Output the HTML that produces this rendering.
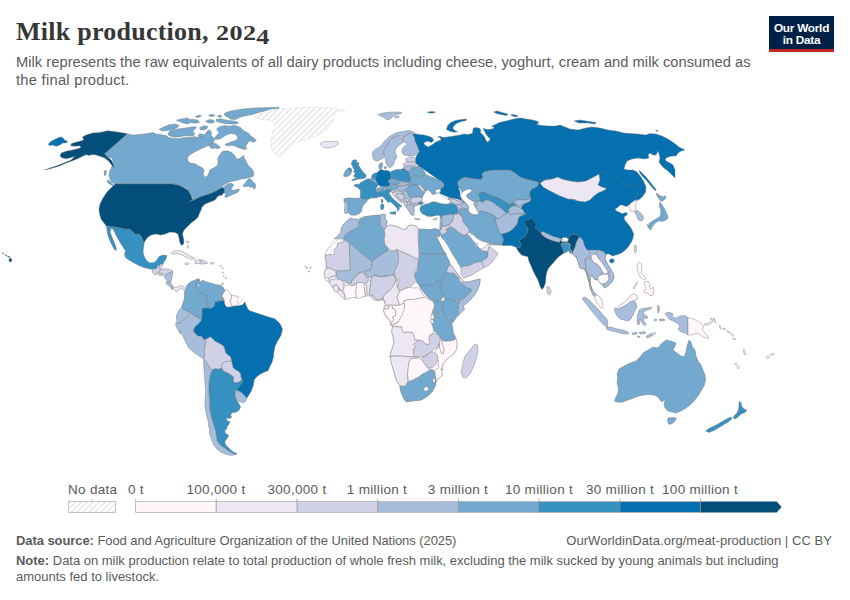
<!DOCTYPE html>
<html><head><meta charset="utf-8">
<style>
html,body{margin:0;padding:0;background:#fff;}
body{width:850px;height:600px;position:relative;overflow:hidden;font-family:"Liberation Sans",sans-serif;color:#5b5b5b;}
.abs{position:absolute;white-space:nowrap;}
#title{left:16px;top:17px;font-family:"Liberation Serif",serif;font-weight:bold;font-size:26px;color:#363636;letter-spacing:0.25px;}
.sub{font-size:14.7px;color:#5b5b5b;left:16px;}
.ft{font-size:13px;color:#5b5b5b;left:16px;}
.ft b{color:#5b5b5b}
.lg{font-size:13.5px;letter-spacing:0.3px;color:#5b5b5b;}
#logo{left:769px;top:16px;width:65px;height:36px;background:#002147;border-bottom:3px solid #c4261f;box-sizing:border-box;color:#fff;font-weight:bold;font-size:11.8px;line-height:12px;text-align:center;letter-spacing:-0.25px}
svg{position:absolute;left:0;top:0;}
</style></head>
<body>
<div id="title" class="abs">Milk production, <span style="display:inline-block;font-size:20.5px;transform:scaleX(1.28);transform-origin:0 100%">202<span style="position:relative;top:3.5px">4</span></span></div>
<div class="abs sub" id="s1" style="top:54px;letter-spacing:0.028px">Milk represents the raw equivalents of all dairy products including cheese, yoghurt, cream and milk consumed as</div>
<div class="abs sub" id="s2" style="top:72px;letter-spacing:0.27px">the final product.</div>
<div id="logo" class="abs"><div style="margin-top:5.5px">Our World</div><div>in Data</div></div>
<svg id="map" width="850" height="600" viewBox="0 0 850 600">
<defs>
<pattern id="hatch" width="4.2" height="4.2" patternUnits="userSpaceOnUse" patternTransform="rotate(45)"><rect width="4.2" height="4.2" fill="#fff"/><line x1="1" y1="0" x2="1" y2="4.2" stroke="#e3e3e3" stroke-width="1.3"/></pattern>
</defs>
<g id="countries" stroke="#6e6e6e" stroke-width="0.4" stroke-linejoin="round">
<path d="M128.0 134.0L133.0 135.0L140.0 134.4L147.0 133.6L153.0 132.4L156.0 134.0L160.0 134.4L162.0 134.8L166.5 135.7L168.7 137.5L172.5 138.2L178.5 138.7L184.5 137.5L190.5 137.2L195.0 136.7L199.5 137.5L202.5 136.0L205.5 133.7L207.7 130.7L210.0 130.0L211.5 132.2L211.2 135.2L213.0 137.5L214.5 139.7L213.7 142.0L211.5 143.5L209.2 145.0L206.2 146.5L201.0 148.7L195.0 151.7L189.7 154.7L187.5 157.7L188.2 161.5L190.5 163.0L195.0 163.7L198.7 166.0L202.5 167.8L204.0 170.5L203.2 174.2L204.7 177.2L207.7 175.7L209.2 172.0L210.0 169.7L214.5 167.5L217.5 165.2L218.2 161.5L217.5 158.5L219.0 156.2L221.2 152.5L223.5 151.0L228.0 151.0L231.7 152.5L234.7 155.5L237.0 159.2L240.0 158.5L242.2 156.2L244.5 155.8L243.5 156.7L245.7 160.5L248.0 165.0L251.7 168.7L254.0 172.5L253.2 176.2L250.2 177.3L245.0 178.5L240.5 179.2L236.0 180.7L232.2 181.2L228.5 182.2L225.5 183.7L222.5 186.0L220.2 188.2L221.0 188.2L224.0 186.7L227.7 183.7L231.5 183.3L233.7 184.8L232.2 187.5L230.7 189.3L233.7 190.5L236.7 189.3L239.7 189.3L238.2 192.0L235.2 193.5L231.5 195.0L227.7 196.8L225.5 197.7L224.7 195.7L226.2 194.2L224.0 192.7L223.7 189.7L222.5 188.2L220.2 189.3L216.5 192.0L212.0 193.5L206.0 195.7L200.0 198.0L200.0 197.0L194.0 200.0L190.0 201.6L193.0 198.0L191.0 194.0L188.0 189.0L184.0 186.4L179.0 185.0L173.0 184.0L115.0 184.0L112.0 182.0L110.0 179.0L109.0 175.0L110.0 170.0L111.0 169.0L112.0 166.0L113.0 162.0L112.0 158.0L108.0 157.0L105.0 153.6Z" fill="#74a9cf"/>
<path d="M216.6 128.8L219.8 126.7L225.1 125.6L229.3 126.2L233.5 125.6L237.8 126.2L240.9 127.8L243.1 130.4L246.2 132.0L248.9 133.6L250.5 135.7L253.6 137.8L256.3 140.5L254.2 142.1L251.5 141.5L248.9 141.0L247.8 143.1L246.2 145.2L245.7 147.4L247.3 148.9L244.1 149.5L240.9 148.4L237.8 147.4L234.6 145.8L231.4 145.2L228.2 145.8L225.6 145.2L225.1 144.2L228.2 143.1L232.5 141.5L235.6 140.5L237.8 138.4L237.2 135.7L234.6 134.1L231.4 133.6L228.2 134.1L225.1 135.7L222.9 137.3L219.8 138.9L216.6 139.4L213.9 138.9L215.5 136.8L217.6 134.6L219.2 132.5L217.6 130.9Z" fill="#74a9cf"/>
<path d="M208.5 145.0L213.0 142.7L216.7 144.2L220.5 147.2L218.2 148.7L214.5 148.0L211.5 148.7Z" fill="#74a9cf"/>
<path d="M159.3 129.2L163.5 127.0L169.5 124.7L175.5 124.0L179.2 125.5L177.0 127.7L172.5 129.2L166.5 130.7L162.0 131.0Z" fill="#74a9cf"/>
<path d="M168.7 132.2L171.0 130.0L176.2 129.2L181.5 128.5L187.5 127.7L193.5 126.7L196.5 127.0L195.0 129.2L192.7 131.5L195.0 133.7L193.5 135.7L189.0 136.0L184.5 135.7L180.0 136.7L174.7 137.2L170.2 136.0L168.0 134.8Z" fill="#74a9cf"/>
<path d="M198.0 135.2L200.2 133.7L203.2 134.5L202.5 136.7L199.5 137.5Z" fill="#74a9cf"/>
<path d="M199.5 127.7L204.0 125.8L207.7 126.2L207.0 128.5L203.2 130.0L200.2 129.7Z" fill="#74a9cf"/>
<path d="M176.2 120.2L182.2 118.7L188.2 118.0L189.0 119.5L193.5 119.2L198.0 120.2L199.5 122.5L195.0 123.2L190.5 122.5L187.5 124.0L183.7 123.2L180.0 121.7Z" fill="#74a9cf"/>
<path d="M205.5 121.0L210.0 119.5L213.7 120.2L214.5 122.2L210.7 123.2L207.0 122.5Z" fill="#74a9cf"/>
<path d="M216.0 119.5L220.5 118.7L226.5 120.2L234.0 121.0L238.5 122.5L237.0 124.0L231.0 124.0L225.0 123.7L220.5 122.5L216.7 121.7Z" fill="#74a9cf"/>
<path d="M224.2 113.5L229.5 111.2L235.5 110.2L243.0 109.0L252.0 108.2L261.0 107.8L270.0 107.5L279.0 107.2L279.0 108.2L270.0 109.3L264.0 111.2L258.0 112.7L253.5 114.2L246.0 115.7L240.0 117.2L235.5 119.5L231.0 119.2L228.0 117.2L225.0 115.7Z" fill="#74a9cf"/>
<path d="M195.0 116.5L199.5 115.0L201.7 115.7L198.0 117.7Z" fill="#74a9cf"/>
<path d="M208.5 115.0L213.0 114.2L215.2 115.7L210.7 116.8Z" fill="#74a9cf"/>
<path d="M217.5 115.7L220.5 115.0L222.0 116.8L219.0 117.2Z" fill="#74a9cf"/>
<path d="M242.7 186.0L245.7 182.2L248.7 178.5L251.0 179.2L252.5 181.5L255.2 183.7L255.8 187.5L254.0 189.3L252.5 186.7L250.2 187.5L248.7 186.0L245.7 186.7Z" fill="#74a9cf"/>
<path d="M107.0 180.0L110.0 181.0L113.6 185.0L114.0 187.0L111.0 185.0L108.0 183.0Z" fill="#74a9cf"/>
<path d="M104.0 171.0L106.4 170.4L106.0 175.0L104.4 175.6Z" fill="#74a9cf"/>
<path d="M115.0 184.0L172.0 184.0L178.0 185.0L183.0 187.0L188.0 190.0L191.0 195.0L192.4 199.6L189.0 202.0L194.0 200.0L200.0 197.0L206.0 195.0L212.0 193.0L218.0 190.0L222.0 187.6L224.0 189.0L224.4 192.0L222.0 195.0L218.0 196.0L215.0 200.0L210.0 202.0L205.0 204.0L202.0 207.0L201.0 210.0L199.6 213.0L198.0 217.0L195.0 220.0L191.0 223.0L187.0 227.0L184.0 230.0L182.4 234.0L183.6 239.0L184.0 243.0L182.0 245.6L180.0 243.0L179.0 238.0L178.0 234.0L175.0 232.4L170.0 232.0L165.0 234.0L161.0 235.0L156.0 234.0L151.0 235.0L147.0 238.0L144.4 242.0L143.0 241.0L141.6 237.0L139.0 234.0L135.0 234.4L132.0 231.0L129.0 229.0L124.0 229.0L120.0 228.0L114.0 227.0L106.4 226.0L104.0 223.0L101.0 219.0L99.6 214.0L99.0 209.0L100.0 204.0L103.0 198.0L107.0 192.0L111.0 188.0L114.0 185.6Z" fill="#034e7b"/>
<path d="M127.5 133.8L117.5 132.0L107.5 130.8L100.0 132.5L92.5 133.0L86.2 135.0L82.5 137.0L83.8 140.0L80.0 141.2L75.0 142.5L71.2 143.8L70.8 145.8L75.0 146.2L79.5 145.8L81.2 147.5L77.5 148.8L72.5 150.0L66.2 151.2L61.2 153.0L60.0 156.2L62.5 158.0L66.2 158.8L71.2 157.5L75.0 156.2L71.2 160.0L65.0 162.5L57.5 165.5L50.0 168.0L44.5 170.0L50.0 168.8L58.8 166.2L66.2 163.0L72.5 160.8L77.5 158.8L82.5 156.2L86.2 154.5L88.8 155.5L92.5 154.5L96.2 155.0L100.0 156.2L105.0 158.0L108.8 161.2L112.0 165.5L113.8 168.0L113.0 163.8L111.2 160.0L107.5 157.0L104.5 153.8Z" fill="#034e7b"/>
<path d="M48.0 144.5L51.2 141.2L56.2 138.8L60.0 137.0L62.5 137.5L64.5 140.0L67.5 141.2L66.2 143.0L62.5 143.0L60.0 145.0L56.2 146.2L52.5 145.0L50.0 145.5Z" fill="#0570b0"/>
<path d="M106.4 226.0L114.0 227.0L120.0 228.0L124.0 229.0L129.0 229.0L132.0 231.0L135.0 234.4L139.0 234.0L141.6 237.0L143.0 241.0L144.4 242.0L143.6 247.0L143.0 252.0L144.4 257.0L147.0 261.0L150.0 263.0L154.0 262.4L157.0 260.0L159.0 256.4L163.0 255.0L167.0 255.6L166.0 259.0L164.0 262.0L162.4 265.0L159.0 265.6L157.0 268.0L154.0 269.6L150.0 269.0L144.0 267.6L139.0 265.6L134.0 263.0L129.0 260.0L125.6 257.6L124.4 254.0L125.6 251.0L123.0 247.0L120.4 243.0L117.6 238.0L115.0 233.0L113.0 229.0L110.0 228.0L111.0 230.0L110.0 232.0L111.6 236.0L114.0 242.0L116.0 247.0L116.4 250.4L114.4 249.6L112.0 245.0L109.6 240.0L107.6 234.0L107.0 230.0Z" fill="#3690c0"/>
<path d="M201.7 308.5L207.0 307.7L210.0 308.5L212.2 307.7L214.5 305.5L215.2 301.7L219.0 301.0L222.0 300.2L224.2 301.0L225.0 304.7L226.5 307.0L231.0 306.7L234.7 305.5L238.5 305.8L242.2 304.7L244.8 301.7L246.0 304.7L247.5 308.5L249.7 310.7L255.0 312.5L262.5 315.0L270.0 317.5L275.0 318.8L280.0 323.8L282.5 328.8L281.2 335.0L277.5 341.2L275.0 346.2L273.8 352.5L273.8 352.5L273.5 357.0L272.0 362.2L269.7 366.7L268.2 370.5L264.5 372.0L260.0 374.2L256.2 377.2L254.0 380.2L253.7 384.0L252.5 387.7L251.0 391.5L248.7 395.2L246.8 398.2L245.0 396.0L242.0 393.0L239.0 391.2L236.0 390.0L238.2 387.7L240.5 384.7L242.7 381.7L242.0 379.5L240.8 377.2L240.5 373.5L238.2 371.2L235.2 369.7L233.0 367.5L232.2 363.7L231.5 360.7L230.7 357.0L227.7 354.7L225.5 352.5L224.7 348.7L223.2 345.7L219.5 343.5L215.0 341.2L212.7 339.0L210.5 336.7L206.7 339.0L203.7 339.7L201.5 336.3L197.7 336.0L194.7 333.0L193.2 330.0L194.2 332.5L193.8 328.7L195.7 325.7L198.7 323.5L201.0 320.5L201.7 317.5L202.2 313.0Z" fill="#0570b0"/>
<path d="M185.7 289.3L186.0 286.7L188.2 283.7L191.2 281.5L195.0 280.0L198.7 278.5L199.5 280.0L197.2 282.2L195.7 285.2L196.5 288.2L198.0 291.2L201.0 292.7L204.7 294.2L207.0 295.0L207.7 298.0L206.7 301.7L207.7 304.7L208.5 307.7L205.5 307.7L201.7 308.5L202.2 313.0L201.7 317.5L201.0 320.5L198.7 317.5L195.7 316.7L192.7 314.5L189.7 312.2L186.0 310.7L183.0 309.2L181.5 307.7L182.2 304.7L183.7 301.0L184.5 296.5L184.2 292.7Z" fill="#74a9cf"/>
<path d="M199.2 279.7L201.0 282.2L202.5 280.0L205.5 281.5L209.2 282.7L213.0 283.7L216.7 284.8L220.5 285.2L222.7 286.7L224.2 289.0L225.0 290.8L223.2 293.5L222.0 295.7L223.5 298.3L224.5 301.0L222.0 300.2L219.0 301.0L215.2 301.7L214.5 305.5L212.2 307.7L210.0 308.5L208.5 307.7L207.7 304.7L206.7 301.7L207.7 298.0L207.0 295.0L204.7 294.2L201.0 292.7L198.0 291.2L196.5 288.2L195.7 285.2L197.2 282.2Z" fill="#74a9cf"/>
<path d="M197.7 284.8L198.9 283.3L199.5 285.4L198.6 287.2Z" fill="#ffffff"/>
<path d="M225.0 290.8L227.2 289.7L229.5 292.7L231.0 295.0L231.7 298.0L230.2 300.2L231.0 303.2L232.2 306.2L229.5 307.0L226.5 307.0L225.0 304.7L224.5 301.0L223.5 298.3L222.0 295.7L223.2 293.5Z" fill="#fff7fb"/>
<path d="M231.0 295.0L234.0 295.7L237.7 296.2L238.5 298.7L237.4 301.7L238.5 304.7L236.2 305.8L232.2 306.2L231.0 303.2L230.2 300.2L231.7 298.0Z" fill="#fff7fb"/>
<path d="M237.7 296.2L240.7 297.2L243.7 300.2L244.8 301.7L242.2 304.7L238.5 305.2L237.4 301.7L238.5 298.7Z" fill="url(#hatch)" stroke="#d4d4d4"/>
<path d="M181.5 307.7L183.0 309.2L186.0 310.7L189.7 312.2L188.7 315.2L186.7 317.5L183.7 319.7L180.7 322.7L178.5 323.5L177.0 321.2L176.2 317.5L177.0 313.7L179.2 310.0Z" fill="#a6bddb"/>
<path d="M176.2 322.0L178.5 323.5L180.7 322.7L183.7 319.7L186.7 317.5L188.7 315.2L189.7 312.2L192.7 314.5L195.7 316.7L198.7 317.5L201.0 320.5L198.7 323.5L195.7 325.7L193.8 328.7L194.2 332.5L193.2 330.0L194.7 333.0L197.7 336.0L201.5 336.3L203.7 339.7L206.0 341.2L205.2 345.0L204.2 350.2L204.8 354.7L203.7 358.5L199.2 356.2L194.0 352.5L188.7 348.0L185.7 342.0L182.7 336.0L179.7 330.0L180.7 334.0L177.7 329.5L175.5 325.0Z" fill="#a6bddb"/>
<path d="M203.7 339.7L206.7 339.0L210.5 336.7L212.7 339.0L215.0 341.2L219.5 343.5L223.2 345.7L224.7 348.7L225.5 352.5L227.7 354.7L230.7 357.0L231.5 360.7L229.2 361.5L225.5 361.5L223.2 362.7L221.7 365.2L221.7 368.2L218.7 369.3L215.0 368.7L212.0 370.2L209.7 367.5L207.5 363.7L205.2 360.7L203.7 358.5L204.8 354.7L204.2 350.2L205.2 345.0L206.0 341.2Z" fill="#d0d1e6"/>
<path d="M221.7 365.2L223.2 362.7L225.5 361.5L229.2 361.5L231.5 360.7L232.2 363.7L233.0 367.5L235.2 369.7L238.2 371.2L240.5 373.5L240.8 377.2L242.0 379.5L239.7 381.7L236.7 382.8L233.7 382.5L233.0 380.2L233.7 377.2L230.7 375.0L227.0 372.7L223.2 371.2L221.7 368.2Z" fill="#d0d1e6"/>
<path d="M212.0 370.2L215.0 368.7L218.7 369.3L221.7 368.2L223.2 371.2L227.0 372.7L230.7 375.0L233.7 377.2L233.0 380.2L233.7 382.5L236.7 382.8L239.7 381.7L242.0 379.5L242.7 381.7L240.5 384.7L238.2 387.7L236.0 390.0L235.2 393.7L235.7 397.5L236.7 400.5L238.2 402.7L239.7 405.0L240.5 407.2L239.0 410.2L236.0 412.2L232.2 412.8L230.7 414.7L231.5 417.7L229.2 418.5L226.2 417.7L227.0 420.7L230.0 421.8L228.8 424.5L227.0 426.7L226.7 429.0L224.7 430.5L225.5 433.5L228.5 435.0L227.7 438.0L225.5 440.2L224.7 442.5L226.2 445.5L228.5 447.7L231.5 450.7L235.2 453.0L237.2 453.7L236.0 454.5L232.2 453.0L229.2 451.5L226.2 449.2L225.5 448.5L222.5 446.7L219.5 444.0L217.2 441.0L216.5 436.5L215.7 431.2L214.2 426.0L212.7 421.5L211.2 416.2L210.2 411.0L209.3 406.5L209.7 402.0L209.3 396.0L208.7 390.0L209.0 384.0L209.3 378.7L210.5 374.2Z" fill="#3690c0"/>
<path d="M203.7 358.5L205.2 360.7L207.5 363.7L209.7 367.5L212.0 370.2L210.5 374.2L209.3 378.7L209.0 384.0L208.7 390.0L209.3 396.0L209.7 402.0L209.3 406.5L210.2 411.0L211.2 416.2L212.7 421.5L214.2 426.0L215.7 431.2L216.5 436.5L217.2 441.0L219.5 444.0L222.5 446.7L225.5 448.5L226.2 449.2L229.2 451.5L232.2 453.0L236.0 454.5L233.0 455.2L230.0 455.2L225.5 454.2L221.0 452.2L217.2 449.2L214.2 445.5L212.0 441.0L210.5 436.5L209.3 432.7L209.7 429.0L208.2 426.0L208.7 422.2L207.2 418.5L206.0 412.5L205.2 408.0L204.8 405.0L205.2 397.5L205.7 390.0L204.8 381.0L204.2 372.0L203.7 364.5Z" fill="#a6bddb"/>
<path d="M236.0 390.0L239.0 391.2L242.0 393.0L245.0 396.0L246.8 398.2L245.7 401.2L243.5 402.7L239.7 401.7L236.7 400.5L235.7 397.5L235.2 393.7Z" fill="#a6bddb"/>
<path d="M160.2 264.2L162.3 263.8L162.0 267.2L160.5 269.5L159.7 268.0Z" fill="#ece7f2"/>
<path d="M152.2 271.0L153.7 268.7L156.7 268.7L157.5 265.7L159.7 265.0L159.7 268.7L160.8 269.5L159.0 271.7L157.5 274.0L154.5 274.7L152.7 272.8Z" fill="#d0d1e6"/>
<path d="M160.8 269.5L164.2 268.7L169.5 269.2L172.5 271.0L170.2 272.5L167.2 273.7L165.0 275.2L163.2 274.0L160.5 273.7L159.0 272.2Z" fill="#d0d1e6"/>
<path d="M157.5 274.0L159.3 272.5L160.8 273.7L163.2 274.3L162.7 275.8L159.7 275.5Z" fill="#d0d1e6"/>
<path d="M165.0 275.2L167.2 273.7L170.2 272.5L172.8 271.3L172.5 275.5L171.7 279.2L170.7 282.2L168.0 281.8L165.7 279.2L164.2 277.0Z" fill="#a6bddb"/>
<path d="M166.2 281.8L168.3 282.1L170.7 282.7L172.8 286.0L173.2 288.7L171.7 289.3L170.2 286.7L167.7 285.2L166.2 283.7Z" fill="#a6bddb"/>
<path d="M173.2 286.7L175.5 287.5L177.7 286.7L180.7 285.7L183.7 286.7L185.7 289.3L184.8 291.2L183.3 289.3L180.7 288.2L178.8 289.7L177.0 292.0L174.7 290.5L173.2 289.3Z" fill="#ece7f2"/>
<path d="M171.0 252.7L174.7 250.7L180.0 250.7L185.2 253.0L189.7 255.7L193.5 257.2L195.0 258.7L190.5 259.3L187.5 257.8L183.7 256.0L180.0 254.2L175.5 253.7L172.5 254.2Z" fill="#ece7f2"/>
<path d="M184.8 263.2L187.5 262.7L189.3 263.8L187.2 264.7L185.2 264.4Z" fill="#ece7f2"/>
<path d="M194.2 261.2L197.2 259.7L200.2 259.7L200.2 263.5L197.7 263.8L194.7 263.5L196.5 262.3Z" fill="#ece7f2"/>
<path d="M200.2 259.7L203.2 260.2L206.2 261.7L207.7 263.2L204.7 263.8L201.7 264.2L200.2 263.5Z" fill="#d0d1e6"/>
<path d="M210.3 262.7L213.7 262.4L214.2 263.9L210.7 264.2Z" fill="#ece7f2"/>
<path d="M221.7 283.0L223.5 282.7L223.2 284.5L221.4 284.5Z" fill="#ece7f2"/>
<path d="M415.0 133.8L418.8 134.4L423.8 135.0L428.8 136.2L432.5 138.1L433.8 140.6L431.2 142.5L428.1 141.2L425.0 141.9L423.8 143.8L425.6 145.6L428.1 146.9L432.5 144.4L435.0 142.5L437.5 141.2L441.2 140.0L440.0 137.5L437.5 136.9L440.0 136.2L443.1 137.5L447.5 136.9L452.5 136.2L460.0 135.0L464.0 133.9L468.2 134.6L472.5 133.2L473.2 128.2L475.3 127.5L479.5 128.2L480.9 130.4L480.2 132.5L482.4 134.6L484.5 137.0L485.9 140.2L487.3 142.1L489.4 140.9L490.1 138.8L488.0 136.7L485.9 133.9L484.5 131.1L483.1 128.2L485.2 128.9L488.0 129.6L492.2 128.9L494.4 127.5L491.5 126.1L495.1 124.7L499.3 122.6L504.9 121.2L510.6 119.8L516.2 118.4L520.5 118.1L526.1 119.1L531.8 119.8L537.4 121.2L538.8 123.3L536.0 124.3L541.6 125.4L548.7 126.1L555.8 126.1L560.0 125.1L570.0 129.0L578.0 130.0L586.0 128.0L592.0 127.0L600.0 128.0L608.0 130.0L616.0 131.0L624.0 133.0L630.0 133.6L638.0 134.0L646.0 135.0L650.0 133.6L656.0 134.0L662.0 136.0L668.0 139.0L674.0 143.0L679.0 147.0L685.0 150.0L681.0 151.0L678.0 153.0L676.0 156.0L672.0 156.0L668.0 157.0L665.0 159.0L666.0 161.0L670.0 163.0L673.0 165.0L675.0 170.0L675.0 178.0L672.0 175.0L668.0 171.0L664.0 168.0L661.0 165.0L659.0 162.0L660.0 158.0L659.0 154.0L658.0 151.0L656.0 155.0L653.0 155.0L650.0 153.0L648.0 155.0L649.0 158.0L644.0 159.0L638.0 158.0L632.0 159.0L627.0 161.0L625.0 165.0L624.0 169.0L628.0 170.0L633.0 170.0L637.0 172.0L641.0 177.0L644.0 182.0L646.0 187.0L645.6 192.0L643.0 196.0L640.0 199.0L637.6 200.0L636.0 199.0L630.0 194.0L610.0 190.0L590.0 186.0L570.0 186.0L550.0 184.0L510.0 180.0L470.0 184.0L458.0 188.0L460.0 191.0L460.0 196.0L462.0 200.0L465.0 202.4L465.0 202.2L463.5 202.5L462.0 201.0L459.0 199.5L455.0 198.5L451.5 198.0L449.0 197.5L446.0 196.0L443.5 195.0L441.0 194.0L439.5 192.8L441.0 191.5L440.0 190.0L441.0 188.5L443.5 187.0L444.0 184.5L442.5 182.0L439.0 180.0L419.0 166.0L416.0 163.5L415.0 160.0L416.5 156.0L419.4 151.2L418.1 148.8L416.9 145.0L415.0 141.2L414.4 137.5L412.5 134.4Z" fill="#0570b0"/>
<path d="M401.0 169.5L403.5 168.5L405.8 169.0L406.8 169.5L405.5 170.5L402.5 170.5Z" fill="#0570b0"/>
<path d="M446.4 129.6L447.8 125.4L450.6 122.6L455.5 120.5L461.2 119.5L466.8 119.1L466.1 120.5L461.2 121.5L456.9 123.3L454.1 125.4L452.7 128.2L454.8 130.4L457.6 131.8L454.1 132.2L449.9 131.3Z" fill="#0570b0"/>
<path d="M493.6 112.0L497.2 111.0L502.1 112.4L507.8 114.1L507.1 115.5L502.1 114.8L497.2 113.8Z" fill="#0570b0"/>
<path d="M510.6 114.4L514.8 114.8L517.6 115.8L516.9 116.9L512.7 116.2Z" fill="#0570b0"/>
<path d="M574.0 121.0L580.0 120.0L586.0 121.0L596.0 122.4L595.0 124.0L588.0 123.0L579.0 123.0Z" fill="#0570b0"/>
<path d="M655.6 130.0L658.0 130.6L657.0 131.6Z" fill="#0570b0"/>
<path d="M426.9 112.2L431.2 111.5L435.6 111.9L433.8 112.9L430.0 113.1Z" fill="#0570b0"/>
<path d="M639.0 170.0L642.0 173.0L646.0 177.0L650.0 182.0L654.0 187.0L656.4 190.0L655.0 190.4L651.0 186.0L647.0 181.0L643.0 177.0L640.0 173.0Z" fill="#0570b0"/>
<path d="M599.0 174.0L602.0 172.4L607.0 172.0L612.0 174.0L617.0 178.0L622.0 182.0L628.0 185.0L633.0 186.0L637.0 185.6L638.0 190.0L637.0 195.0L636.0 199.0L637.6 200.4L635.0 200.0L631.0 203.0L629.2 205.0L626.2 206.5L622.5 205.0L620.2 205.0L618.0 207.2L615.0 209.2L616.5 211.0L619.5 212.2L622.5 213.7L625.5 212.5L627.7 213.2L626.2 215.5L624.0 217.0L624.7 220.0L627.7 223.7L630.7 227.5L632.2 230.5L633.7 234.2L633.0 238.0L631.5 241.7L629.2 245.5L626.2 249.2L622.5 252.2L618.7 254.2L615.0 255.2L612.7 256.0L610.5 254.8L608.2 253.7L606.0 254.5L603.7 251.5L600.7 250.7L597.7 253.7L594.7 253.0L592.5 254.5L588.7 256.0L585.0 253.0L583.5 247.0L579.0 239.5L574.5 235.0L579.0 237.2L577.5 235.0L573.7 234.2L570.0 235.0L568.5 239.5L561.7 239.5L559.5 238.3L555.7 237.2L551.2 235.7L546.7 233.5L543.0 231.7L540.7 232.7L537.7 229.7L534.7 227.5L535.5 225.2L533.2 223.0L530.2 220.0L526.5 218.5L523.5 215.5L520.5 208.7L523.5 204.2L528.7 200.5L528.0 196.7L530.2 193.0L528.7 190.0L535.0 183.0L539.0 181.0L545.0 179.0L570.0 180.0L590.0 184.0L599.0 178.0Z" fill="#0570b0"/>
<path d="M609.7 259.7L612.0 258.7L614.2 259.7L613.5 262.3L611.2 263.2L609.7 261.7Z" fill="#0570b0"/>
<path d="M634.5 245.5L636.0 245.2L636.7 249.2L635.7 253.0L634.2 250.7Z" fill="#d0d1e6"/>
<path d="M540.0 183.0L545.0 180.0L552.0 179.0L558.0 177.0L562.0 179.0L570.0 181.0L578.0 182.0L586.0 181.0L599.0 174.0L600.0 180.0L598.0 185.0L602.0 187.0L607.0 188.4L603.0 191.0L598.0 193.0L594.0 196.0L590.0 200.0L585.0 202.0L578.0 201.0L570.0 199.0L576.0 200.0L568.0 199.0L560.0 196.0L554.0 193.0L548.0 190.0L543.0 187.0Z" fill="#ece7f2"/>
<path d="M523.2 220.9L524.7 218.5L530.7 217.0L532.8 219.2L534.7 222.2L536.2 225.2L534.7 227.5L537.7 229.7L540.7 232.7L542.2 235.0L546.0 237.7L550.5 239.8L555.0 241.3L559.5 242.2L560.7 239.5L561.7 241.7L567.7 241.7L568.8 238.7L570.0 235.0L573.7 234.2L577.5 235.0L579.0 237.2L577.5 240.2L576.0 243.2L575.2 247.0L573.7 250.0L572.2 253.7L571.2 250.0L569.7 247.7L570.7 244.7L568.5 242.8L564.0 242.8L561.7 243.2L561.0 244.7L562.2 247.0L563.2 250.0L564.0 253.0L561.7 254.5L558.7 256.7L555.7 259.7L553.5 262.7L550.5 265.7L548.2 268.7L546.7 272.5L546.0 276.2L545.5 282.5L543.8 287.5L542.0 289.5L540.0 286.2L538.0 280.0L535.5 275.5L533.2 271.0L531.0 265.7L528.7 260.5L528.0 256.7L525.0 256.0L522.0 255.2L519.7 253.0L517.5 250.0L516.7 247.7L520.5 247.0L521.2 244.0L519.0 241.0L521.2 238.7L524.2 237.2L526.5 234.2L528.0 230.5L527.2 227.5L525.0 225.2L523.8 223.0Z" fill="#034e7b"/>
<path d="M540.7 232.7L543.0 231.7L546.7 233.5L551.2 235.7L555.7 237.2L559.5 238.3L560.2 241.0L559.2 242.2L555.0 241.3L550.5 239.8L546.0 237.7L542.2 235.0Z" fill="#a6bddb"/>
<path d="M561.7 238.3L564.0 237.2L567.0 237.7L568.5 239.5L567.0 241.3L563.2 241.4Z" fill="#ffffff"/>
<path d="M561.7 243.2L564.7 243.2L568.5 243.2L570.0 245.5L569.2 247.7L570.7 250.0L571.5 253.7L570.0 253.0L568.5 250.7L566.2 252.2L564.0 253.0L562.8 249.2L561.7 246.2Z" fill="#3690c0"/>
<path d="M547.0 286.2L549.5 287.5L551.2 292.0L549.5 295.0L547.0 293.0Z" fill="#d0d1e6"/>
<path d="M574.0 250.0L599.0 250.0L603.0 252.0L606.0 255.0L605.0 259.0L607.0 263.0L610.0 268.0L613.0 273.0L614.0 278.0L612.0 282.0L609.0 285.0L605.0 288.0L603.0 286.0L599.0 282.0L597.6 279.0L597.0 280.0L594.0 279.0L592.0 275.0L590.0 278.0L590.4 284.0L592.0 289.0L594.4 293.0L597.0 295.0L595.0 297.0L593.0 295.0L591.0 290.0L589.6 285.0L588.0 278.0L586.0 272.0L584.0 269.0L580.0 268.0L578.0 262.0L576.0 256.0Z" fill="#a6bddb"/>
<path d="M576.0 243.2L577.5 240.2L579.0 237.2L581.2 238.0L583.5 241.0L584.2 244.7L585.7 247.7L588.0 250.7L590.2 253.0L588.0 256.0L585.7 258.2L585.0 261.0L586.0 265.0L585.0 269.0L588.0 274.0L589.0 280.0L589.6 285.0L591.0 290.0L590.0 284.0L588.0 278.0L586.0 272.0L584.0 269.0L580.0 268.0L578.0 262.0L576.0 256.0L576.0 257.5L573.7 255.2L572.2 253.7L573.7 250.0L575.2 247.0Z" fill="#a6bddb"/>
<path d="M585.0 261.0L588.0 258.0L591.0 257.0L593.0 262.0L597.0 264.0L600.0 267.0L602.0 271.0L601.0 275.0L598.0 276.0L597.0 280.0L594.0 279.0L592.0 275.0L590.0 278.0L590.4 284.0L592.0 289.0L594.4 293.0L597.0 295.0L595.0 297.0L593.0 295.0L591.0 290.0L589.6 285.0L589.0 280.0L588.0 274.0L586.0 269.0L585.6 265.0Z" fill="#a6bddb"/>
<path d="M591.0 257.0L593.0 254.0L597.0 255.0L599.0 259.0L602.0 262.0L605.0 267.0L608.0 271.0L607.0 274.0L604.0 273.6L602.0 271.0L600.0 267.0L597.0 264.0L593.0 262.0Z" fill="#fff7fb"/>
<path d="M599.0 250.0L603.0 252.0L606.0 255.0L605.0 259.0L607.0 263.0L610.0 268.0L613.0 273.0L614.0 278.0L612.0 282.0L609.0 285.0L605.0 288.0L603.0 286.0L606.0 283.0L609.0 279.0L609.0 275.0L608.0 271.0L605.0 267.0L602.0 262.0L599.0 259.0L597.0 255.0L596.0 252.0Z" fill="#a6bddb"/>
<path d="M598.0 276.0L601.0 275.0L604.0 274.0L608.0 274.4L609.0 279.0L606.0 283.0L602.0 284.0L599.0 282.0L597.6 279.0Z" fill="#fff7fb"/>
<path d="M594.4 295.6L597.0 295.0L600.0 297.0L602.0 301.0L603.0 306.0L602.0 308.4L599.0 306.0L596.4 302.0L595.0 299.0Z" fill="#fff7fb"/>
<path d="M582.4 298.0L585.0 297.0L589.0 300.0L594.0 305.0L599.0 310.0L603.0 315.0L607.0 319.0L608.0 324.0L607.0 327.0L604.0 325.0L600.0 321.0L595.0 315.0L590.0 309.0L586.0 303.6L583.0 300.0Z" fill="#a6bddb"/>
<path d="M606.0 327.0L611.0 327.0L617.0 329.0L623.0 330.0L628.0 332.0L629.0 333.6L624.0 334.0L618.0 332.4L612.0 331.0L607.0 329.6Z" fill="#a6bddb"/>
<path d="M632.0 333.0L637.0 332.4L637.0 334.0L632.4 334.6Z" fill="#a6bddb"/>
<path d="M639.0 332.4L645.0 331.6L645.6 333.6L640.0 334.0Z" fill="#a6bddb"/>
<path d="M637.0 336.0L640.0 336.4L639.0 338.0Z" fill="#a6bddb"/>
<path d="M646.0 336.4L651.0 333.6L653.0 333.0L652.0 335.6L650.0 337.0L647.0 338.0Z" fill="#a6bddb"/>
<path d="M651.0 333.6L655.6 332.4L655.0 334.4L652.0 335.6Z" fill="#ece7f2"/>
<path d="M614.4 308.0L618.0 309.0L622.0 307.0L626.0 305.0L630.0 302.0L634.0 300.4L636.0 303.0L637.0 307.0L635.0 311.0L633.0 315.0L631.0 319.0L628.0 321.0L624.0 320.0L620.0 319.0L617.0 316.0L615.0 312.0Z" fill="#a6bddb"/>
<path d="M617.0 308.0L620.0 305.0L624.0 302.4L628.0 299.0L631.0 295.0L634.0 293.6L637.0 295.6L637.6 299.0L634.0 300.4L630.0 302.0L626.0 305.0L622.0 307.0L618.0 309.0Z" fill="#fff7fb"/>
<path d="M639.0 310.0L642.0 308.4L647.0 308.0L651.6 307.0L651.0 309.0L646.0 310.4L643.0 312.0L645.0 315.0L648.0 317.0L646.0 319.0L643.6 317.0L644.0 321.0L646.4 324.4L644.0 325.6L641.6 322.0L640.0 319.0L639.6 324.0L637.6 325.0L637.0 320.0L637.6 315.0Z" fill="#a6bddb"/>
<path d="M657.4 306.0L659.0 305.6L659.6 310.0L658.0 313.0L657.6 309.6Z" fill="#a6bddb"/>
<path d="M654.0 319.6L656.4 319.0L657.0 320.4L654.4 321.0Z" fill="#a6bddb"/>
<path d="M659.0 319.0L664.0 319.0L665.0 320.4L660.0 321.0Z" fill="#a6bddb"/>
<path d="M665.0 313.6L669.0 312.0L673.0 314.0L672.0 317.0L676.0 318.0L680.0 316.0L685.0 315.6L688.0 317.6L688.0 335.0L685.0 333.0L681.0 332.0L678.0 329.0L680.0 326.0L677.0 323.0L673.0 321.0L669.0 319.0L667.0 316.0Z" fill="#a6bddb"/>
<path d="M688.0 317.6L693.0 319.0L698.0 321.0L702.0 324.0L704.0 327.0L702.0 329.0L704.0 332.0L707.0 335.0L709.0 338.0L706.0 338.0L702.0 336.0L698.0 333.0L694.0 334.0L691.0 335.0L688.0 335.0Z" fill="#fff7fb"/>
<path d="M705.0 325.6L709.0 324.4L713.0 322.0L715.0 319.0L714.0 318.0L712.0 321.0L708.0 323.0L704.4 324.0Z" fill="#fff7fb"/>
<path d="M637.0 264.0L639.0 262.4L641.6 264.0L642.0 269.0L641.0 273.0L644.0 276.0L646.0 279.0L644.0 280.0L641.0 278.0L639.0 275.0L637.6 270.0Z" fill="#fff7fb"/>
<path d="M644.0 282.0L648.0 281.0L650.0 284.0L649.0 287.0L651.0 289.0L653.0 287.0L654.0 291.0L653.0 295.0L650.0 296.0L648.0 293.0L645.0 293.0L643.6 291.0L646.0 289.0L645.0 286.0Z" fill="#fff7fb"/>
<path d="M633.0 288.0L637.0 282.0L637.6 283.0L634.0 289.0Z" fill="#fff7fb"/>
<path d="M628.5 205.7L630.7 203.5L633.7 201.2L636.0 200.8L636.7 202.7L635.2 205.0L636.0 208.0L634.5 211.0L631.5 211.7L630.0 208.7Z" fill="#fff7fb"/>
<path d="M634.5 211.3L637.2 210.2L640.2 212.5L642.7 215.5L643.8 218.5L642.0 220.7L639.3 220.7L637.5 218.5L636.0 214.7Z" fill="#a6bddb"/>
<path d="M656.2 193.0L658.5 194.5L662.2 196.7L666.0 196.0L665.2 199.0L662.2 201.2L660.0 200.5L658.5 198.2L657.0 196.0Z" fill="#74a9cf"/>
<path d="M660.0 202.0L662.2 205.0L664.5 208.7L666.7 213.2L668.2 217.7L666.0 220.0L662.2 221.5L659.2 220.7L656.2 222.2L654.0 224.5L651.7 227.5L650.2 226.0L648.7 223.7L651.7 221.5L655.5 219.2L658.5 217.7L660.7 214.7L660.7 210.2L659.2 205.7Z" fill="#74a9cf"/>
<path d="M646.8 224.5L649.5 225.2L651.7 228.2L651.0 230.2L648.7 228.2Z" fill="#74a9cf"/>
<path d="M619.0 369.0L624.0 366.0L630.0 363.0L636.0 361.0L640.0 357.0L643.0 353.0L648.0 350.0L653.0 347.0L658.0 348.0L661.0 344.0L666.0 340.0L671.0 341.0L676.0 343.0L675.0 346.0L673.0 350.0L677.0 353.0L681.0 356.0L684.0 357.0L686.0 352.0L687.0 346.0L689.0 340.0L691.0 342.0L692.4 347.0L695.0 350.0L696.0 356.0L698.0 361.0L701.0 365.0L703.0 370.0L705.0 375.0L705.6 380.0L704.0 386.0L701.0 391.0L698.0 396.0L694.0 401.0L690.0 405.0L686.0 408.0L681.0 411.0L676.0 413.0L672.0 412.0L668.0 411.0L665.0 408.0L664.0 404.0L665.0 399.0L662.0 402.0L660.0 400.0L658.0 397.0L654.0 395.0L649.0 394.4L644.0 395.0L639.0 396.0L634.0 398.0L628.0 400.0L623.0 402.0L618.0 402.4L614.4 401.0L616.0 397.0L618.0 393.0L618.4 388.0L617.0 383.0L617.6 378.0L617.0 374.0Z" fill="#74a9cf"/>
<path d="M668.0 418.0L672.0 417.6L676.4 418.0L675.0 421.0L672.0 423.6L669.0 424.4L667.6 421.6Z" fill="#74a9cf"/>
<path d="M739.0 401.6L741.0 402.4L741.6 406.0L744.0 409.0L747.0 410.0L745.0 412.4L741.0 414.0L738.0 417.0L735.0 419.0L733.0 418.0L734.4 415.6L737.0 413.0L738.4 410.0L739.0 406.0Z" fill="#3690c0"/>
<path d="M731.0 417.0L732.0 418.4L729.0 421.6L724.0 424.4L719.0 427.6L714.0 430.4L709.0 432.4L705.6 431.0L708.0 429.0L713.0 426.4L718.0 424.0L723.0 421.0L727.6 418.4Z" fill="#3690c0"/>
<path d="M734.4 363.6L736.0 363.0L739.6 367.6L738.4 369.0Z" fill="#fff7fb"/>
<path d="M462.5 191.9L460.0 188.8L458.1 185.6L457.5 181.9L461.2 178.8L465.0 177.2L470.0 178.1L476.2 179.0L481.2 179.4L483.1 176.9L481.9 174.4L483.8 171.9L490.0 170.6L495.0 170.0L510.0 170.0L515.0 173.1L520.0 176.9L525.0 178.8L530.0 180.0L535.0 181.2L538.8 182.5L537.5 186.2L534.4 188.1L531.9 188.8L530.0 191.9L529.4 195.0L531.0 198.5L530.0 201.2L526.9 202.8L524.0 204.0L521.5 206.0L520.2 208.1L523.1 210.0L524.4 213.1L526.2 213.8L515.0 245.0L500.0 245.0L489.4 245.0L486.2 241.9L483.1 239.4L478.8 236.9L474.4 232.5L471.2 231.2L469.4 228.8L468.8 232.5L466.9 234.4L463.8 235.0L460.0 232.5L452.5 227.5L449.4 225.0L445.6 226.9L442.5 228.8L440.0 229.8L440.0 203.8L445.0 203.1L448.8 198.1L452.5 199.0L456.2 200.0L460.0 201.2L463.1 202.8L465.6 201.9L463.1 198.8L461.2 196.2L460.6 194.4Z" fill="#a6bddb"/>
<path d="M457.5 181.9L461.2 178.8L465.0 177.2L470.0 178.1L476.2 179.0L481.2 179.4L483.1 176.9L481.9 174.4L483.8 171.9L490.0 170.6L495.0 170.0L510.0 170.0L515.0 173.1L520.0 176.9L525.0 178.8L530.0 180.0L535.0 181.2L538.8 182.5L537.5 186.2L534.4 188.1L531.9 188.8L530.0 191.9L529.4 195.0L531.2 198.1L527.5 199.4L523.1 200.0L520.0 199.4L516.9 200.0L513.8 201.9L511.2 204.4L508.1 203.8L505.0 201.9L501.9 200.0L498.8 198.1L495.6 196.9L492.5 196.2L488.8 194.4L485.0 192.5L481.2 192.5L478.8 193.8L479.8 196.9L480.6 200.6L478.1 201.9L475.0 201.2L473.8 201.9L470.6 200.0L468.1 198.1L467.2 195.6L468.8 193.8L471.2 192.5L471.9 190.0L469.4 189.0L465.6 190.0L462.5 191.9L460.0 188.8L458.1 185.6Z" fill="#74a9cf"/>
<path d="M478.8 193.8L481.2 192.5L485.0 192.5L488.8 194.4L492.5 196.2L495.6 196.9L498.8 198.1L501.9 200.0L505.0 201.9L508.1 203.8L511.2 204.4L512.5 202.8L515.0 203.5L516.9 204.8L515.0 205.6L512.5 206.2L510.0 207.5L508.5 210.0L508.8 212.5L506.9 213.1L504.4 211.2L502.5 209.4L500.0 207.5L496.9 205.6L493.8 203.1L490.6 201.2L487.5 200.0L484.4 200.6L482.5 202.5L480.6 201.2L479.8 196.9Z" fill="#3690c0"/>
<path d="M476.2 202.8L477.5 201.2L480.6 201.2L482.5 202.8L484.4 200.6L487.5 200.0L490.6 201.2L493.8 203.1L496.9 205.6L500.0 207.5L502.5 209.4L504.4 211.2L506.9 213.1L505.6 214.4L502.5 215.6L500.0 218.1L496.9 218.8L495.0 216.2L491.9 214.4L488.1 213.1L484.4 211.9L481.2 211.2L478.1 213.1L477.5 210.0L476.2 207.5L475.6 204.8L477.5 205.0Z" fill="#a6bddb"/>
<path d="M511.2 204.4L513.8 201.9L516.9 200.0L520.0 199.4L523.1 200.0L527.5 199.4L531.2 198.8L530.0 201.2L526.9 202.8L523.8 203.8L521.2 205.6L518.1 206.2L516.9 204.8L515.0 203.5L512.5 202.8Z" fill="#a6bddb"/>
<path d="M508.5 210.0L510.0 207.5L512.5 206.2L515.0 205.9L518.1 206.5L520.0 208.1L523.1 210.0L524.4 213.1L521.2 214.4L518.1 213.1L515.6 214.4L513.1 213.8L510.6 215.0L508.8 212.5Z" fill="#a6bddb"/>
<path d="M495.6 219.4L496.9 218.8L500.0 218.1L502.5 215.6L505.6 214.4L506.9 213.1L508.8 212.5L510.6 215.0L513.1 213.8L515.6 214.4L518.1 213.1L521.2 214.4L524.4 213.1L526.2 213.8L522.5 215.6L519.4 216.9L518.1 220.0L517.5 223.8L515.0 226.9L511.9 230.0L508.1 232.5L503.8 233.8L499.4 234.4L498.1 230.6L496.2 226.9L495.6 222.5Z" fill="#a6bddb"/>
<path d="M499.4 234.4L503.8 233.8L508.1 232.5L511.9 230.0L515.0 226.9L517.5 223.8L518.1 220.0L519.4 216.9L522.5 215.6L526.2 213.8L529.4 215.6L531.9 218.1L530.0 219.4L526.2 220.6L524.4 221.9L525.0 224.4L526.9 227.5L528.0 230.5L526.5 234.2L524.2 237.2L521.2 238.7L519.0 241.0L521.2 244.0L520.5 247.0L516.7 247.7L513.7 246.2L510.0 245.2L505.5 245.5L501.7 245.2L503.8 240.0L501.2 237.5Z" fill="#0570b0"/>
<path d="M350.2 218.2L353.5 219.0L357.2 219.3L359.5 219.0L364.7 216.7L370.0 216.0L376.0 215.2L379.7 215.2L382.7 214.2L385.7 214.8L385.0 218.2L387.2 221.2L386.5 224.2L386.5 226.5L389.5 225.0L394.0 225.7L398.5 227.2L403.0 229.5L406.7 228.7L408.2 225.7L412.0 225.0L416.5 226.5L418.3 228.7L424.0 229.5L430.0 229.7L435.2 228.7L439.3 229.7L440.5 234.2L438.7 237.2L436.7 235.0L435.2 233.5L437.5 238.7L440.5 244.7L443.5 250.7L445.7 253.7L447.2 257.5L449.5 262.0L450.2 265.0L452.5 266.5L454.7 270.2L457.7 274.0L460.7 277.7L461.2 278.2L462.2 280.7L466.0 282.2L470.5 281.5L475.7 280.0L480.2 279.2L479.5 284.5L477.2 290.5L473.5 296.5L468.2 301.7L463.0 306.2L464.5 309.2L460.0 313.7L458.5 314.8L456.2 317.5L453.2 322.0L451.7 323.8L452.5 328.0L453.2 332.5L455.5 337.7L455.8 338.2L457.0 343.0L456.7 349.0L454.0 353.5L450.2 356.5L446.5 359.5L443.5 363.2L442.0 367.0L442.8 370.0L441.2 368.8L442.5 375.0L439.5 378.0L437.0 380.0L436.2 381.2L435.0 386.2L432.5 391.2L427.5 396.2L421.2 400.0L413.8 400.8L406.2 401.8L403.8 398.8L401.2 392.5L400.0 387.5L400.0 386.2L396.2 380.0L393.8 371.2L391.2 362.5L390.0 356.2L390.2 356.5L391.0 352.0L392.5 347.5L394.0 343.0L393.2 337.0L391.7 331.7L392.5 326.5L391.0 323.5L389.5 320.5L386.5 317.5L384.2 313.0L383.5 309.2L384.2 306.2L385.7 304.7L384.2 301.0L382.7 298.0L383.8 300.0L377.5 300.0L370.0 295.8L365.5 296.2L356.2 297.5L343.8 296.2L337.5 288.8L336.7 291.0L334.0 289.5L332.5 286.8L330.2 283.5L328.0 281.2L327.2 280.8L325.0 279.7L325.0 277.5L325.0 276.7L324.2 272.2L326.2 268.8L326.2 268.5L326.5 264.0L325.7 259.5L325.0 255.0L325.0 254.2L327.2 249.7L330.2 245.2L332.5 241.5L334.7 239.2L334.7 238.5L337.7 236.2L340.7 232.5L341.5 228.0L343.7 224.2L346.7 221.2Z" fill="#fff7fb"/>
<path d="M334.7 238.5L337.7 236.2L340.7 232.5L341.5 228.0L343.7 224.2L346.7 221.2L350.2 218.2L353.5 219.0L357.2 219.3L358.7 222.0L359.5 225.7L355.7 228.7L351.2 231.0L347.5 233.2L344.5 236.2L343.7 239.5L334.7 239.2Z" fill="#a6bddb"/>
<path d="M325.0 254.5L327.2 249.7L330.2 245.2L332.5 241.5L334.7 239.2L343.7 239.5L343.7 242.2L337.7 243.0L337.0 247.5L334.7 249.7L334.0 254.5Z" fill="url(#hatch)" stroke="#d4d4d4"/>
<path d="M343.7 239.2L344.5 236.2L347.5 233.2L351.2 231.0L355.7 228.7L359.5 225.7L358.7 222.0L359.5 219.0L364.7 216.7L370.0 216.0L376.0 215.2L379.7 215.2L380.5 219.0L379.7 223.5L382.0 227.2L384.2 230.2L385.0 234.0L384.2 240.0L385.0 244.5L388.7 248.2L388.0 250.5L382.0 254.2L376.7 258.0L372.2 261.0L369.2 259.5L362.5 254.2L355.7 248.2L349.0 242.2Z" fill="#74a9cf"/>
<path d="M379.7 215.2L382.7 214.2L385.7 214.8L385.0 218.2L387.2 221.2L386.5 224.2L386.5 226.5L384.2 230.2L382.0 227.2L379.7 223.5L380.5 219.0Z" fill="#a6bddb"/>
<path d="M384.2 230.2L386.5 226.5L389.5 225.0L394.0 225.7L398.5 227.2L403.0 229.5L406.7 228.7L408.2 225.7L412.0 225.0L416.5 226.5L418.3 228.7L418.0 232.5L418.3 240.0L418.7 253.5L418.7 258.7L415.0 258.0L406.0 253.5L397.0 249.7L393.2 251.2L388.7 248.7L385.0 244.5L384.2 240.0L385.0 234.0Z" fill="#ece7f2"/>
<path d="M418.7 229.7L424.0 229.0L430.0 229.7L435.2 228.7L439.3 229.7L440.5 234.2L438.7 237.2L436.7 235.0L435.2 233.5L437.5 238.7L440.5 244.7L443.5 250.7L445.7 253.7L419.5 253.7L418.7 241.0Z" fill="#74a9cf"/>
<path d="M419.5 253.7L445.7 253.7L447.2 257.5L449.5 262.0L450.2 265.0L448.0 267.2L446.5 271.7L445.0 276.2L442.7 280.0L440.5 283.7L439.0 280.7L437.5 279.2L436.7 282.2L433.7 286.0L430.7 285.2L427.7 286.0L424.7 284.5L421.7 284.8L419.5 286.0L417.2 283.0L415.0 279.2L414.2 274.7L417.2 270.2L417.7 265.0L418.7 260.5Z" fill="#74a9cf"/>
<path d="M419.5 286.0L421.7 284.8L424.7 284.5L427.7 286.0L430.7 285.2L433.7 286.0L436.7 282.2L437.5 279.2L439.0 280.7L440.5 283.7L439.7 288.2L442.0 292.0L444.2 296.5L441.2 299.5L437.5 301.0L433.7 301.0L430.0 299.5L427.0 296.5L424.0 292.7L421.0 289.0Z" fill="#74a9cf"/>
<path d="M448.0 267.2L450.2 265.0L452.5 266.5L454.7 270.2L457.7 274.0L460.7 277.7L459.2 278.5L456.2 275.5L453.2 273.2L449.5 273.2L446.5 272.5Z" fill="#d0d1e6"/>
<path d="M446.5 272.5L449.5 273.2L453.2 273.2L456.2 275.5L459.2 278.5L460.0 281.5L463.0 284.5L466.7 287.5L471.2 289.0L470.5 292.0L466.7 295.7L463.0 298.7L458.5 300.2L454.0 301.7L450.2 300.2L446.5 298.0L444.2 296.5L442.0 292.0L439.7 288.2L440.5 283.7L442.7 280.0L445.0 276.2Z" fill="#74a9cf"/>
<path d="M462.2 281.5L466.0 282.2L470.5 281.5L475.7 280.0L480.2 279.2L479.5 284.5L477.2 290.5L473.5 296.5L468.2 301.7L463.0 306.2L464.5 309.2L460.0 313.7L458.5 314.8L457.7 310.0L458.5 304.7L460.0 300.7L463.0 298.7L466.7 295.7L470.5 292.0L471.2 289.0L466.7 287.5L463.0 284.5Z" fill="#a6bddb"/>
<path d="M443.5 301.7L445.0 297.2L448.0 298.7L452.5 301.0L457.0 301.7L460.0 300.2L458.5 304.7L457.7 310.0L458.5 314.5L456.2 317.5L453.2 322.0L451.7 323.5L448.0 319.7L444.2 316.7L440.5 314.2L441.7 310.7L442.7 306.2Z" fill="#74a9cf"/>
<path d="M433.0 301.7L436.7 301.0L441.2 300.2L443.5 301.7L442.7 306.2L441.2 310.7L439.7 313.7L434.5 313.7L432.2 313.3L433.0 310.0L434.5 305.5Z" fill="#74a9cf"/>
<path d="M434.5 314.2L439.7 314.2L444.2 317.2L448.0 320.2L451.7 323.8L452.5 328.0L453.2 332.5L455.5 337.7L454.0 340.0L449.5 340.7L445.0 341.2L442.0 340.0L439.7 336.2L436.7 333.2L433.7 330.2L432.2 325.0L431.5 321.2L433.0 317.5L432.2 315.2Z" fill="#74a9cf"/>
<path d="M325.0 255.0L334.0 254.5L334.7 249.7L337.0 247.5L337.7 243.0L343.7 242.2L343.7 240.0L349.0 242.7L349.7 246.0L349.3 255.0L350.2 267.7L350.5 270.0L343.7 270.7L337.0 271.2L332.5 269.2L328.7 267.7L326.2 268.5L326.5 264.0L325.7 259.5Z" fill="#d0d1e6"/>
<path d="M349.0 242.7L355.7 248.7L362.5 254.2L369.2 259.5L372.2 261.0L371.8 267.0L370.0 270.0L365.5 271.2L361.7 271.8L358.0 273.7L355.0 276.0L352.7 279.0L351.2 282.7L348.2 284.2L346.0 282.0L343.7 280.5L340.7 280.5L338.5 279.0L336.2 276.0L335.8 271.8L337.0 271.2L343.7 270.7L350.5 270.0L349.7 255.0L349.3 246.0Z" fill="#a6bddb"/>
<path d="M372.2 261.0L376.7 258.0L382.0 254.2L388.0 250.5L393.2 251.2L397.0 249.7L398.5 255.0L398.5 261.0L397.0 266.2L394.7 270.7L394.0 274.5L391.0 276.0L385.0 276.0L379.7 276.7L374.5 274.8L371.5 277.2L368.5 277.5L366.2 275.2L364.3 273.0L365.5 271.2L370.0 270.0L371.8 267.0Z" fill="#a6bddb"/>
<path d="M397.0 249.7L406.0 253.5L415.0 258.0L418.3 259.2L417.7 267.0L415.0 271.5L414.2 276.0L416.5 280.5L413.5 284.2L409.0 287.2L404.5 288.7L400.0 291.0L397.7 288.0L398.5 284.2L396.2 280.5L395.5 276.7L394.3 274.5L394.7 270.7L397.0 266.2L398.5 261.0L398.5 255.0Z" fill="#d0d1e6"/>
<path d="M351.2 282.7L352.7 279.0L355.0 276.0L358.0 273.7L361.7 271.8L364.3 273.0L366.2 275.2L368.5 277.5L367.7 280.5L364.0 281.7L360.2 281.7L356.5 282.7L354.2 285.0L352.0 285.0Z" fill="#d0d1e6"/>
<path d="M371.5 277.2L374.5 274.8L379.7 276.7L385.0 276.0L391.0 276.0L394.0 274.5L395.5 277.5L394.7 281.2L393.2 285.0L391.0 289.5L388.0 293.2L385.0 294.0L382.7 298.5L380.5 300.3L374.5 300.3L371.5 297.7L370.7 291.0L370.0 285.0L370.7 280.5Z" fill="#d0d1e6"/>
<path d="M328.7 278.2L332.5 276.0L336.2 276.3L338.5 279.3L340.7 280.8L343.7 280.8L346.0 282.3L343.7 285.0L343.3 288.7L341.8 291.0L339.2 288.0L337.0 285.0L334.7 285.0L332.5 286.5L330.2 283.5L328.0 281.2Z" fill="#ece7f2"/>
<path d="M324.2 272.2L326.2 268.8L329.2 268.2L332.5 269.5L335.8 271.8L336.2 276.0L332.5 276.0L328.7 278.2L325.0 277.5Z" fill="#ece7f2"/>
<path d="M332.5 286.8L334.7 285.3L337.0 285.3L338.5 287.7L336.2 291.0L334.0 289.5Z" fill="#ece7f2"/>
<path d="M336.7 291.0L338.8 288.0L341.8 291.3L343.7 294.7L343.8 296.2L337.5 288.8Z" fill="#ece7f2"/>
<path d="M382.7 298.0L385.0 295.0L388.7 292.7L392.5 289.0L394.7 286.0L397.0 282.2L398.2 279.3L400.0 280.7L397.7 285.2L397.0 289.0L399.2 292.7L400.0 296.5L400.7 301.0L398.5 302.5L394.0 302.5L390.2 304.0L385.7 304.7L384.2 301.0Z" fill="#ece7f2"/>
<path d="M392.5 326.5L396.2 326.8L401.5 326.8L402.2 329.5L403.7 332.5L407.5 332.0L412.7 332.5L414.2 336.2L415.0 340.0L418.0 340.3L417.7 344.5L415.7 346.7L413.5 349.0L413.5 353.5L415.0 356.5L410.5 356.8L404.5 356.2L397.7 355.7L392.5 355.7L390.2 356.5L391.0 352.0L392.5 347.5L394.0 343.0L393.2 337.0L391.7 331.7Z" fill="#ece7f2"/>
<path d="M413.5 344.5L418.0 340.3L422.5 341.0L424.7 343.3L427.7 344.8L429.7 343.7L428.5 339.2L430.0 335.2L433.0 333.7L436.7 333.7L439.7 336.7L440.5 340.0L439.0 343.7L438.2 347.5L434.5 349.0L431.5 351.2L428.5 353.5L425.5 355.7L422.5 357.2L418.7 356.5L415.0 356.5L413.5 353.5L413.5 349.0L415.7 346.7Z" fill="#d0d1e6"/>
<path d="M422.5 357.5L425.8 356.0L428.8 353.8L431.8 351.5L434.8 352.7L437.2 355.0L437.8 359.5L436.0 364.0L433.0 367.0L429.2 368.5L426.2 366.2L423.7 362.5L421.7 359.5Z" fill="#d0d1e6"/>
<path d="M390.2 356.8L397.7 356.0L404.5 356.5L410.5 357.1L415.0 356.8L418.7 356.8L418.7 358.0L411.2 358.3L408.8 362.5L407.5 375.0L407.5 382.5L405.5 386.2L400.0 386.2L396.2 380.0L393.8 371.2L391.2 362.5L390.0 356.2Z" fill="#ece7f2"/>
<path d="M400.0 386.2L405.5 386.2L408.0 382.0L412.5 380.5L417.5 378.0L422.5 374.2L427.5 371.8L431.2 369.2L434.5 370.8L435.5 376.2L436.2 381.2L435.0 386.2L432.5 391.2L427.5 396.2L421.2 400.0L413.8 400.8L406.2 401.8L403.8 398.8L401.2 392.5L400.0 387.5Z" fill="#74a9cf"/>
<path d="M423.8 388.0L427.0 386.2L428.8 388.8L426.2 391.2L423.8 390.5Z" fill="#fff7fb"/>
<path d="M432.5 378.8L435.0 378.8L435.5 382.0L433.0 382.5Z" fill="#fff7fb"/>
<path d="M461.2 372.5L462.5 363.8L465.0 356.2L470.0 350.0L475.0 343.8L477.5 345.0L478.0 351.2L476.2 358.8L473.8 366.2L470.0 373.8L466.2 378.0L463.0 377.5Z" fill="#d0d1e6"/>
<path d="M333.0 287.0L334.5 285.0L337.0 285.0L338.8 287.5L338.0 290.5L336.0 292.5L334.0 290.0Z" fill="#ece7f2"/>
<path d="M337.5 291.5L339.5 289.5L341.5 291.5L344.0 293.5L345.0 296.0L345.5 299.5L343.0 298.5L340.0 295.5L337.8 293.2Z" fill="#ece7f2"/>
<path d="M330.0 280.0L333.0 279.5L336.0 278.5L339.5 279.5L342.0 280.5L343.5 283.0L344.0 286.0L343.5 289.5L342.0 291.0L341.0 290.0L339.5 289.0L338.8 287.2L337.0 284.8L334.5 284.8L332.8 286.5L331.0 285.0L330.0 284.0Z" fill="#ece7f2"/>
<path d="M344.0 286.5L345.0 285.0L347.5 285.5L350.0 285.0L352.5 285.5L355.0 284.5L356.2 283.0L356.5 287.5L355.8 291.5L356.2 295.0L356.5 298.0L354.0 297.5L351.0 298.0L348.0 298.5L345.7 299.5L345.2 296.0L344.2 293.5L343.5 290.0Z" fill="#fff7fb"/>
<path d="M356.2 283.0L359.0 282.5L362.0 282.5L364.5 283.0L364.0 286.5L364.8 290.0L365.0 293.5L366.0 295.5L363.0 296.8L360.0 298.0L358.0 298.5L356.6 298.0L356.0 295.0L355.8 291.5L356.5 287.5Z" fill="#fff7fb"/>
<path d="M364.5 283.0L366.0 283.5L366.5 286.5L366.8 290.0L367.2 294.5L366.2 295.5L365.2 293.5L365.0 290.0L364.2 286.5Z" fill="#fff7fb"/>
<path d="M366.0 283.5L367.5 281.5L369.5 280.0L371.0 281.0L370.5 284.0L370.0 287.0L369.5 290.5L369.2 294.5L367.3 294.8L367.0 290.0L366.7 286.5Z" fill="#ece7f2"/>
<path d="M371.0 281.0L372.0 277.5L374.0 275.5L378.0 276.5L382.0 277.0L386.0 276.5L390.0 275.5L393.5 275.0L395.0 277.0L396.0 279.5L395.0 282.5L393.5 285.5L391.5 288.5L389.0 291.0L386.5 293.0L384.5 294.5L383.0 297.5L380.5 299.5L377.0 300.0L375.0 297.5L373.0 295.5L369.5 294.8L369.8 290.5L370.2 287.0L370.7 284.0Z" fill="#d0d1e6"/>
<path d="M383.0 297.5L384.5 294.5L386.5 293.0L389.0 291.0L391.5 288.5L393.5 285.5L395.0 282.5L396.0 279.5L397.0 281.5L396.5 285.0L398.0 288.5L399.5 291.5L398.5 294.0L397.0 296.5L398.0 300.0L399.0 303.0L399.5 305.0L395.0 305.0L390.0 305.0L385.5 305.2L385.0 302.0L384.0 299.5Z" fill="#ece7f2"/>
<path d="M384.8 306.0L388.5 305.8L388.5 308.5L384.8 308.5Z" fill="#fff7fb"/>
<path d="M384.8 308.8L388.5 308.8L388.8 306.0L392.0 305.8L392.5 308.5L395.0 309.0L396.0 312.0L395.5 316.0L392.5 317.0L394.0 320.0L391.5 322.5L390.0 320.5L387.5 318.0L385.0 314.0L383.5 311.0Z" fill="#fff7fb"/>
<path d="M392.5 305.8L399.5 305.2L402.0 303.5L404.5 303.0L405.0 307.0L404.5 311.0L402.5 315.0L400.0 319.0L398.0 322.0L395.0 323.0L392.0 324.5L390.5 323.5L391.5 322.5L394.0 320.0L392.5 317.0L395.5 316.0L396.0 312.0L395.0 309.0L392.5 308.5Z" fill="#fff7fb"/>
<path d="M399.5 291.5L402.0 290.0L406.0 288.5L410.0 287.0L413.5 288.2L417.2 287.5L419.5 289.0L422.5 293.5L424.7 297.2L421.7 298.0L417.2 298.7L413.5 299.5L409.7 299.5L406.0 300.2L403.7 301.0L404.5 300.0L404.5 303.0L402.0 303.5L399.5 305.2L399.0 303.0L398.0 300.0L397.0 296.5L398.5 294.0Z" fill="#fff7fb"/>
<path d="M403.7 301.0L406.0 300.2L409.7 299.5L413.5 299.5L417.2 298.7L421.7 298.0L424.7 297.2L429.2 299.5L433.0 301.7L434.5 305.5L433.0 310.0L431.5 313.7L432.2 317.5L430.7 321.2L432.2 325.0L433.7 329.5L433.0 333.2L430.0 334.7L428.5 338.5L430.0 343.0L427.7 344.5L424.7 343.0L422.5 340.7L419.5 340.0L415.0 340.0L414.2 336.2L412.7 332.5L407.5 331.7L403.7 332.5L402.2 329.5L401.5 326.5L396.2 326.5L392.5 325.7L394.7 324.2L397.7 322.7L400.0 319.0L402.2 314.5L404.2 310.0L404.8 305.5Z" fill="#fff7fb"/>
<path d="M390.5 323.8L392.0 324.8L391.5 326.0L390.3 325.0Z" fill="#ece7f2"/>
<path d="M350.5 285.0L351.5 281.5L354.0 278.5L357.0 275.5L360.0 273.0L362.5 272.0L364.5 274.5L366.5 277.5L368.5 279.5L367.5 281.5L366.0 283.5L364.5 283.0L362.0 282.5L359.0 282.5L356.2 283.0L355.0 284.5L352.5 285.5Z" fill="#d0d1e6"/>
<path d="M430.7 315.2L433.7 314.8L434.5 318.2L432.2 319.3L430.7 317.8Z" fill="#fff7fb"/>
<path d="M430.7 319.3L433.0 319.3L433.7 322.7L431.8 323.8L430.7 321.7Z" fill="#fff7fb"/>
<path d="M439.7 336.7L441.7 340.0L442.3 344.5L444.2 349.0L443.5 353.5L441.7 354.2L440.5 350.5L439.3 347.5L439.0 343.7L440.5 340.0Z" fill="#fff7fb"/>
<path d="M442.0 340.3L445.0 341.5L449.5 341.0L454.0 340.3L455.8 338.2L457.0 343.0L456.7 349.0L454.0 353.5L450.2 356.5L446.5 359.5L443.5 363.2L442.0 367.0L442.8 370.0L441.2 368.8L442.5 375.0L439.5 378.0L437.0 380.0L436.2 381.2L435.5 376.2L434.5 370.8L438.8 367.5L437.8 359.5L437.2 355.0L434.8 352.7L438.2 347.5L439.0 343.7L439.3 347.5L440.5 350.5L441.7 354.2L443.5 353.5L444.2 349.0L442.3 344.5Z" fill="#fff7fb"/>
<path d="M411.2 358.6L418.7 358.3L421.7 359.8L423.7 362.8L426.2 366.5L429.2 368.8L430.0 367.5L427.5 371.2L422.5 373.8L417.5 377.5L412.5 380.0L408.8 381.2L407.5 375.0L408.8 362.5Z" fill="#fff7fb"/>
<path d="M459.2 278.8L461.2 278.2L462.2 280.7L460.3 282.2L459.7 280.7Z" fill="#fff7fb"/>
<path d="M390.0 179.0L392.0 178.0L410.0 177.5L420.0 177.0L420.0 189.0L425.0 193.0L422.2 197.2L422.5 199.5L419.5 202.2L419.5 204.5L415.0 205.8L414.0 208.5L411.2 214.5L406.5 207.5L404.5 205.0L404.2 203.0L402.2 201.2L395.5 197.0L391.5 191.5L389.5 190.0Z" fill="#d0d1e6"/>
<path d="M378.1 114.4L382.5 113.1L388.8 112.2L396.2 111.9L401.9 112.5L400.6 114.0L396.2 114.4L393.8 115.6L391.9 117.5L389.4 119.4L386.9 119.8L384.4 118.1L381.2 116.2Z" fill="#a6bddb"/>
<path d="M394.4 116.2L398.8 116.0L399.0 117.2L395.0 117.8Z" fill="#a6bddb"/>
<path d="M372.5 151.9L375.0 149.4L378.8 147.5L381.9 144.4L385.0 140.6L388.1 137.5L391.9 135.0L395.6 133.1L400.0 131.9L405.0 131.0L410.0 130.6L413.8 131.9L415.0 133.8L412.5 134.4L410.0 133.1L407.5 133.8L405.6 136.2L403.1 136.9L400.6 135.6L397.5 135.6L395.0 136.9L392.5 138.1L390.0 140.6L388.1 143.8L386.2 146.9L384.4 149.4L383.8 152.5L384.4 155.6L383.1 158.1L380.0 160.0L376.9 161.2L374.0 160.0L372.8 156.9Z" fill="#a6bddb"/>
<path d="M384.4 149.4L386.2 146.9L388.1 143.8L390.0 140.6L392.5 138.1L395.0 136.9L397.5 135.6L400.0 136.2L402.5 138.1L403.5 141.2L402.5 143.1L400.0 144.4L397.5 146.9L395.6 149.4L395.0 151.9L396.2 155.0L396.9 157.5L395.0 160.0L394.0 163.1L392.8 165.6L390.6 167.5L388.1 166.9L386.5 164.4L385.6 161.2L385.0 158.1L384.4 155.6L383.8 152.5Z" fill="#a6bddb"/>
<path d="M403.1 136.9L405.6 136.2L407.5 133.8L410.0 133.1L412.5 134.4L414.4 137.5L415.0 141.2L416.9 145.0L418.1 148.8L419.4 151.2L417.5 153.8L414.4 155.6L410.0 156.2L406.2 155.6L403.1 154.4L401.9 151.9L402.5 148.8L404.4 146.2L406.9 144.4L405.6 142.5L403.8 141.9L403.1 139.4Z" fill="#a6bddb"/>
<path d="M405.6 158.8L409.4 157.5L413.8 156.9L415.6 158.1L415.6 161.2L412.5 161.9L408.8 161.5L406.2 161.2Z" fill="#d0d1e6"/>
<path d="M403.1 163.8L405.6 161.9L409.4 161.9L412.5 162.2L415.6 161.9L416.2 165.0L413.8 166.2L410.0 165.6L406.9 166.0L403.8 166.2Z" fill="#d0d1e6"/>
<path d="M403.8 166.9L407.5 166.2L410.6 166.0L414.0 166.9L415.0 168.8L413.8 171.2L410.6 172.5L408.1 171.9L405.6 170.0L404.0 168.8Z" fill="#a6bddb"/>
<path d="M409.0 171.5L411.0 169.0L414.0 167.0L417.5 166.0L420.0 166.5L418.1 166.9L421.9 168.1L424.4 171.2L425.6 174.4L420.0 176.8L416.0 176.0L412.0 176.3L410.0 177.0L409.5 175.0Z" fill="#74a9cf"/>
<path d="M410.0 177.5L412.0 176.5L416.0 176.2L420.0 177.0L425.6 174.4L439.0 180.0L442.5 182.0L444.0 184.5L443.5 187.0L441.0 188.5L439.5 190.0L437.0 189.5L435.5 190.5L436.0 193.0L434.0 194.0L432.5 195.0L431.0 193.0L429.5 191.0L428.0 190.0L426.0 190.5L425.0 192.5L424.2 190.5L423.5 188.5L421.5 186.5L419.5 184.8L417.5 185.0L416.0 185.0L412.5 184.8L409.5 185.5L410.0 186.2L409.0 184.5L409.5 182.5L410.5 180.5Z" fill="#74a9cf"/>
<path d="M343.5 176.2L344.5 172.5L346.0 170.0L348.0 168.5L349.5 168.5L349.0 170.0L350.5 171.0L351.8 170.5L351.5 172.5L350.5 174.5L348.5 176.0L346.0 176.8Z" fill="#74a9cf"/>
<path d="M348.0 168.5L349.5 167.8L351.2 168.5L351.8 170.5L350.5 171.0L349.0 170.0Z" fill="#3690c0"/>
<path d="M351.5 162.5L353.0 160.0L355.5 159.8L357.0 160.5L356.0 162.0L358.5 162.5L359.0 164.0L358.0 165.5L359.5 166.5L360.5 168.5L362.0 170.5L363.5 172.5L365.5 174.0L366.2 175.8L365.8 177.5L364.0 178.5L361.5 178.8L359.0 179.0L356.5 179.5L354.0 180.5L351.8 180.8L352.5 179.5L355.0 178.5L356.5 177.5L354.0 176.8L353.5 175.5L355.0 174.5L354.8 172.5L353.5 171.5L354.5 169.5L353.0 168.0L352.5 166.0L351.5 164.5Z" fill="#3690c0"/>
<path d="M354.0 185.0L357.5 184.0L359.5 184.5L360.5 182.5L363.5 181.0L366.2 179.5L368.5 178.5L369.5 179.5L372.0 181.0L374.5 182.0L377.5 183.0L378.5 184.5L377.2 186.5L376.0 188.5L375.5 190.0L376.8 192.0L377.8 194.5L378.5 196.5L377.0 197.8L374.5 198.0L371.8 197.8L369.5 198.8L367.5 199.8L364.5 199.5L361.5 198.5L360.0 197.0L360.5 194.0L360.5 191.0L359.0 188.5L356.5 187.0L354.5 186.2Z" fill="#3690c0"/>
<path d="M343.8 198.7L348.0 197.7L354.0 198.3L360.0 198.0L364.5 199.2L367.5 198.7L366.7 201.7L363.7 204.7L362.2 207.7L361.5 211.5L359.2 213.7L355.5 215.2L351.0 215.2L348.7 213.0L348.0 209.2L347.7 201.7L344.2 201.0Z" fill="#74a9cf"/>
<path d="M343.8 201.0L347.7 201.7L348.0 209.2L348.3 213.0L345.0 213.7L344.2 210.0L345.0 205.5Z" fill="#a6bddb"/>
<path d="M369.5 179.0L371.5 178.0L373.5 178.2L374.8 179.5L375.2 181.5L374.0 182.2L372.0 181.2L370.0 180.0Z" fill="#74a9cf"/>
<path d="M371.5 176.5L372.5 174.5L374.5 173.2L376.8 172.8L376.5 175.5L375.8 177.5L375.0 179.5L373.5 178.2L371.8 178.0Z" fill="#3690c0"/>
<path d="M376.8 172.8L378.5 171.5L379.8 169.8L382.0 169.5L384.0 170.5L386.5 170.5L389.0 171.0L390.5 172.5L391.0 175.0L391.8 177.5L390.5 179.0L389.0 180.0L388.0 181.0L389.5 183.0L389.8 185.0L388.8 186.2L387.0 186.5L384.0 186.8L382.0 186.5L379.5 186.0L378.5 184.5L377.5 183.0L376.2 181.5L375.2 179.5L375.8 177.5L376.5 175.5Z" fill="#0570b0"/>
<path d="M378.5 165.0L380.0 163.5L381.8 162.8L382.8 163.5L382.5 166.0L381.8 168.0L380.8 169.2L379.5 169.0L378.8 167.0Z" fill="#74a9cf"/>
<path d="M384.0 167.0L385.8 166.5L386.8 167.5L386.0 168.8L384.5 168.5Z" fill="#74a9cf"/>
<path d="M391.0 171.5L393.5 170.5L396.5 169.5L400.0 169.5L402.5 170.5L405.5 170.7L408.0 171.0L409.0 173.0L409.5 175.5L410.0 177.5L411.0 179.5L410.0 181.0L408.5 182.2L406.0 181.8L403.5 181.5L401.0 181.2L398.5 180.5L396.5 179.8L394.5 179.2L392.0 178.0L391.2 175.0L390.7 172.8Z" fill="#3690c0"/>
<path d="M388.0 181.0L389.5 179.8L392.0 178.5L394.5 179.5L397.0 180.0L399.5 181.0L400.5 182.0L399.0 183.5L397.0 184.2L394.5 184.5L392.0 184.0L390.0 183.2Z" fill="#74a9cf"/>
<path d="M399.0 183.8L401.0 182.5L404.0 182.2L407.0 182.5L409.0 182.8L408.0 184.5L405.5 185.2L402.5 185.8L400.0 186.0L398.5 185.2Z" fill="#a6bddb"/>
<path d="M384.0 187.0L387.0 186.8L389.2 186.2L390.0 184.5L392.0 184.2L394.8 184.8L397.2 184.5L398.5 185.5L398.0 187.5L396.5 189.0L394.0 189.8L391.0 190.0L389.0 189.2L386.5 188.5L384.5 188.5Z" fill="#74a9cf"/>
<path d="M398.0 187.5L400.0 186.2L403.0 186.0L406.0 185.5L408.5 184.8L409.5 186.0L408.0 188.0L406.0 190.0L403.0 191.0L400.0 191.2L398.0 190.0L397.0 189.0Z" fill="#a6bddb"/>
<path d="M375.5 190.0L377.2 188.5L379.5 187.5L382.0 187.2L384.0 187.5L384.5 189.2L383.5 190.5L381.5 191.0L379.5 192.0L377.5 191.8L376.2 191.5Z" fill="#74a9cf"/>
<path d="M376.8 192.5L379.5 192.0L381.5 191.2L384.0 190.5L386.5 189.0L389.0 189.5L391.0 190.2L390.5 192.0L389.0 193.0L390.0 195.0L392.0 197.5L394.5 200.0L397.5 202.5L400.0 204.5L402.0 206.2L401.0 207.2L399.0 206.5L399.5 208.5L398.5 210.5L397.0 211.0L397.5 209.0L396.0 207.0L393.0 204.0L390.0 201.5L388.0 202.5L386.0 200.0L384.0 197.8L382.0 196.2L380.0 197.0L378.5 196.8L377.8 194.5Z" fill="#3690c0"/>
<path d="M389.5 212.5L392.5 212.0L396.0 211.5L395.5 214.5L392.5 214.0L390.0 213.5Z" fill="#3690c0"/>
<path d="M391.0 190.2L394.0 189.8L396.0 189.5L396.5 190.8L395.0 191.8L392.5 192.2L390.8 191.8Z" fill="#d0d1e6"/>
<path d="M392.5 192.5L395.0 192.0L396.8 191.0L399.0 191.2L401.5 192.0L403.0 193.0L401.0 193.8L398.5 193.5L396.5 194.0L396.0 195.5L398.0 198.0L400.5 200.5L402.5 202.5L401.5 203.0L399.0 201.0L396.5 198.5L394.5 196.0L393.0 194.5Z" fill="#d0d1e6"/>
<path d="M396.5 194.2L398.8 193.8L401.2 194.0L403.0 194.5L403.5 196.5L403.0 199.0L401.8 200.5L400.0 199.0L398.0 197.0Z" fill="#d0d1e6"/>
<path d="M403.0 191.5L405.0 190.5L407.5 192.0L409.5 195.0L410.5 198.0L410.8 200.5L409.5 201.8L407.5 202.2L406.2 200.8L405.5 198.5L404.5 196.0L403.5 194.0Z" fill="#a6bddb"/>
<path d="M405.8 199.5L407.2 198.8L408.2 200.0L407.2 201.5L406.0 201.0Z" fill="#fff7fb"/>
<path d="M402.8 199.5L404.5 198.5L405.8 199.5L405.5 201.2L404.2 201.8L403.2 200.8Z" fill="#d0d1e6"/>
<path d="M404.5 201.5L406.2 201.0L407.2 203.0L406.8 205.5L405.5 206.8L404.5 205.0L404.2 203.0Z" fill="#d0d1e6"/>
<path d="M407.2 202.5L409.5 201.8L411.2 202.5L411.0 204.0L408.5 204.5L407.2 204.0Z" fill="#d0d1e6"/>
<path d="M411.2 198.0L414.0 197.0L418.0 196.8L421.8 197.2L422.5 199.5L421.0 201.0L419.5 202.2L417.0 202.8L414.0 203.2L411.5 202.8L410.8 200.5Z" fill="#d0d1e6"/>
<path d="M407.5 187.5L409.5 185.5L412.5 184.8L416.0 185.0L418.5 186.5L420.0 189.0L421.5 191.5L424.5 192.5L425.0 194.5L423.0 195.5L422.2 197.2L418.0 196.8L414.0 197.0L411.2 198.0L410.0 196.5L408.0 195.0L407.8 192.5L405.5 190.0Z" fill="#74a9cf"/>
<path d="M406.5 205.5L408.5 204.5L411.2 204.0L414.0 203.5L416.0 204.0L418.5 203.5L419.5 204.5L417.0 205.5L415.0 205.8L413.0 206.2L414.0 208.5L415.0 211.0L413.5 212.0L414.5 214.5L412.5 216.0L411.2 214.5L410.0 212.0L408.2 209.5L406.5 207.5Z" fill="#a6bddb"/>
<path d="M414.0 218.5L417.0 218.5L420.0 219.0L419.5 219.8L416.0 219.5Z" fill="#a6bddb"/>
<path d="M254.1 117.1L258.2 114.7L264.1 112.9L271.2 111.2L278.2 109.2L288.8 108.2L300.6 107.6L312.4 107.3L322.9 107.6L332.4 108.2L345.3 110.6L335.9 111.8L334.7 114.7L334.1 117.6L332.9 121.2L331.2 124.7L328.2 128.2L325.3 130.6L320.6 134.1L315.9 135.9L311.2 137.6L306.5 139.1L301.8 140.6L298.2 141.8L294.7 142.9L291.8 145.3L288.8 148.2L286.5 150.8L284.1 153.5L281.2 156.5L277.6 155.3L275.3 153.5L273.5 151.8L272.1 149.4L271.2 147.1L270.6 144.1L270.6 141.2L271.4 138.2L272.4 135.3L271.8 132.9L273.5 130.6L274.1 127.6L274.7 125.3L272.9 121.8L267.6 120.0L261.8 119.4L255.9 118.2Z" fill="url(#hatch)" stroke="#d4d4d4"/>
<path d="M320.6 143.5L322.9 141.8L327.6 141.4L332.4 141.8L337.6 141.2L338.5 144.1L335.9 145.9L331.2 147.6L327.6 148.2L323.5 147.1L321.2 145.3Z" fill="#ece7f2"/>
<path d="M381.2 199.5L382.5 199.0L383.0 201.0L382.5 203.0L381.5 202.8L381.0 201.0Z" fill="#3690c0"/>
<path d="M380.8 204.5L382.2 204.0L383.8 204.5L383.8 207.5L383.0 209.8L381.2 209.5L380.5 207.0Z" fill="#3690c0"/>
<path d="M459.4 210.0L462.5 208.1L465.6 207.5L468.8 212.5L470.6 214.4L473.8 215.0L476.9 214.8L478.1 213.1L481.2 211.2L484.4 211.9L488.1 213.1L491.9 214.4L495.0 216.2L495.6 219.4L494.5 218.0L496.0 222.0L497.0 226.0L498.5 230.0L500.0 233.0L502.0 235.0L503.5 239.0L503.0 241.5L501.5 244.0L500.0 245.0L496.0 244.5L492.0 243.5L490.0 241.5L488.0 241.2L485.5 242.0L483.0 241.5L480.0 240.0L477.5 238.5L475.0 236.5L473.0 234.5L471.0 233.0L469.5 232.8L469.0 232.5L468.0 229.0L466.0 225.5L464.0 222.0L462.5 218.0L461.0 215.0L460.0 214.4L458.8 211.9Z" fill="#74a9cf"/>
<path d="M441.3 235.0L443.1 234.4L445.5 233.3L447.0 231.8L446.3 229.2L448.2 228.0L450.0 227.1L452.3 227.7L454.9 229.2L457.5 231.4L460.2 233.3L462.4 235.0L464.3 235.2L466.2 234.8L467.5 233.5L468.3 235.4L469.8 236.4L469.0 236.5L471.0 238.0L472.5 240.0L474.5 242.0L475.5 244.0L476.5 245.5L478.5 247.0L480.0 249.0L482.0 250.5L485.5 251.2L487.5 251.5L488.0 253.5L487.8 256.0L487.0 258.0L484.0 260.0L481.5 261.5L478.0 262.0L475.0 262.8L472.0 264.0L470.0 265.5L465.5 266.0L462.5 266.5L461.0 268.0L459.5 265.5L457.5 262.0L455.0 258.0L452.5 254.0L450.0 249.5L447.5 245.0L444.5 240.5L441.5 237.5L440.5 235.0Z" fill="#74a9cf"/>
<path d="M475.8 243.5L477.0 243.0L477.8 244.5L477.5 246.5L476.2 246.2Z" fill="#ece7f2"/>
<path d="M480.0 249.0L482.0 248.5L484.5 247.5L486.5 245.5L488.5 243.5L489.5 244.5L489.0 246.5L488.5 249.0L487.8 251.5L485.5 251.2L482.0 250.5Z" fill="#ece7f2"/>
<path d="M488.5 249.0L489.5 247.0L491.0 247.5L493.5 249.5L496.0 251.5L497.8 253.0L497.0 255.5L495.0 258.0L493.5 260.5L491.5 263.0L489.0 265.0L486.5 266.5L484.0 267.5L482.5 264.5L481.5 261.5L484.0 260.0L487.0 258.0L487.8 256.0L488.0 253.5L487.8 251.5Z" fill="#d0d1e6"/>
<path d="M488.8 241.8L490.0 241.2L490.3 243.2L489.3 244.0Z" fill="#d0d1e6"/>
<path d="M461.0 268.0L462.5 266.5L465.5 266.0L470.0 265.5L472.0 264.0L475.0 262.8L478.0 262.0L481.5 261.5L482.5 264.5L484.0 267.5L481.5 269.0L478.5 271.0L475.0 273.0L472.0 275.0L468.0 276.8L463.5 277.8L461.5 275.0L461.0 271.5Z" fill="#d0d1e6"/>
<path d="M418.8 202.5L420.5 201.5L422.5 202.2L423.5 203.2L422.0 204.5L420.0 204.8L419.0 204.0Z" fill="#3690c0"/>
<path d="M420.0 207.5L421.5 205.8L424.5 204.8L427.0 204.0L430.0 202.5L433.0 201.8L436.0 202.2L439.0 203.0L443.0 204.0L447.0 204.5L450.5 203.5L453.0 204.0L455.5 205.0L457.0 207.0L457.8 210.0L458.0 213.0L456.5 213.5L453.0 214.0L449.5 214.5L446.0 215.0L442.5 215.8L441.0 217.5L440.0 215.5L437.0 215.2L434.0 216.0L430.5 216.5L427.5 216.2L425.0 215.0L422.5 214.0L421.0 212.0L420.0 210.0Z" fill="#3690c0"/>
<path d="M448.5 198.5L451.0 199.0L454.0 199.5L457.5 200.8L460.5 202.5L462.0 204.0L460.0 204.5L457.0 204.0L454.5 203.5L452.0 202.5L450.0 201.0Z" fill="#d0d1e6"/>
<path d="M457.0 204.5L459.5 204.8L461.5 206.2L462.5 208.5L461.0 209.0L459.0 207.5L457.5 206.0Z" fill="#d0d1e6"/>
<path d="M460.5 204.5L462.5 203.5L464.5 202.5L466.5 204.0L468.0 206.5L467.5 209.0L466.0 208.5L464.0 209.0L462.5 209.0L461.5 206.2L460.0 205.0Z" fill="#a6bddb"/>
<path d="M417.5 185.2L419.5 184.8L421.5 186.5L423.5 189.0L424.0 191.0L422.5 191.2L421.5 189.5L420.0 187.5Z" fill="#ece7f2"/>
<path d="M452.9 217.0L454.4 214.4L457.0 213.9L459.6 214.4L461.1 216.3L463.0 218.5L462.3 221.1L464.1 223.4L466.0 225.3L467.9 227.5L469.0 230.1L469.0 232.0L467.5 233.4L466.0 234.6L464.1 235.0L462.3 234.9L460.0 233.1L457.4 231.3L454.8 229.0L452.1 227.5L449.9 226.8L448.8 224.9L450.6 223.0L452.5 221.1L452.9 219.3Z" fill="#d0d1e6"/>
<path d="M467.5 233.5L469.0 232.2L470.5 232.8L470.9 234.6L469.8 236.1L468.3 235.4Z" fill="#fff7fb"/>
<path d="M442.0 217.0L443.1 215.5L445.8 214.9L448.8 214.6L452.5 214.4L454.4 214.4L452.9 217.0L452.9 219.3L452.5 221.1L450.6 223.0L448.8 224.7L446.1 225.6L443.9 226.4L442.4 226.0L442.0 223.8L442.4 221.1L441.6 219.3Z" fill="#a6bddb"/>
<path d="M441.3 227.5L442.4 226.4L444.3 226.6L446.4 225.9L448.8 224.9L449.9 226.9L448.0 227.9L446.1 229.0L446.9 231.6L445.4 233.1L443.1 234.3L441.3 235.0L440.5 232.8L441.1 230.1Z" fill="#d0d1e6"/>
<path d="M440.5 223.4L441.6 222.6L442.0 224.1L441.3 226.8L440.5 229.8L439.8 227.5Z" fill="#a6bddb"/>
<path d="M433.0 219.3L434.9 218.5L437.5 217.8L436.8 219.1L434.5 220.4L433.4 220.0Z" fill="#d0d1e6"/>
<path d="M719.0 325.6L720.0 325.2L721.4 328.8L720.4 329.2Z" fill="#fff7fb"/>
<path d="M723.0 328.0L726.0 329.4L725.6 330.2L722.8 328.8Z" fill="#fff7fb"/>
<path d="M727.0 331.0L730.0 332.0L729.6 332.8L726.8 331.8Z" fill="#fff7fb"/>
<path d="M731.0 333.0L734.0 335.6L733.2 336.4L730.6 334.0Z" fill="#fff7fb"/>
<path d="M733.0 338.0L735.6 339.2L735.2 340.0L732.8 338.8Z" fill="#fff7fb"/>
<path d="M743.0 349.6L744.4 349.2L745.6 354.4L744.4 354.8Z" fill="#fff7fb"/>
<path d="M766.0 357.0L768.0 355.6L769.6 357.0L768.0 359.0Z" fill="#fff7fb"/>
<path d="M770.0 354.4L773.6 353.2L774.0 354.4L770.8 355.6Z" fill="#fff7fb"/>
<path d="M710.0 318.0L715.0 320.0L716.0 323.0L714.4 321.4L710.4 319.0Z" fill="#fff7fb"/>
<path d="M186.0 241.0L189.0 241.6L189.2 243.0L186.4 242.4Z" fill="#fff7fb"/>
<path d="M187.2 245.0L188.4 245.4L188.4 248.4L187.4 248.0Z" fill="#fff7fb"/>
<path d="M220.2 265.4L221.1 265.4L221.1 266.3L220.2 266.3Z" fill="#fff7fb"/>
<path d="M222.0 267.7L222.9 267.7L222.9 268.6L222.0 268.6Z" fill="#fff7fb"/>
<path d="M222.4 272.2L223.3 272.2L223.3 273.2L222.4 273.2Z" fill="#fff7fb"/>
<path d="M223.2 275.2L224.1 275.2L224.1 276.2L223.2 276.2Z" fill="#fff7fb"/>
<path d="M225.4 277.4L226.3 277.4L226.3 278.5L225.4 278.5Z" fill="#fff7fb"/>
<path d="M2.2 253.0L3.5 253.2L3.5 253.8L2.2 253.5Z" fill="#034e7b"/>
<path d="M5.0 254.4L6.9 255.4L6.6 256.0L5.0 255.0Z" fill="#034e7b"/>
<path d="M7.5 256.0L9.8 256.6L9.5 257.4L7.5 256.6Z" fill="#034e7b"/>
<path d="M9.0 259.0L10.6 258.1L12.0 259.8L11.0 261.9L9.2 261.5Z" fill="#034e7b"/>
<path d="M305.0 266.2L305.8 266.2L305.8 267.2L305.0 267.2Z" fill="#fff7fb"/>
<path d="M306.8 267.5L307.6 267.5L307.6 268.5L306.8 268.5Z" fill="#fff7fb"/>
<path d="M310.0 267.2L311.0 267.2L311.0 268.4L310.0 268.4Z" fill="#fff7fb"/>
<path d="M308.0 271.2L309.8 270.8L309.8 271.6L308.2 272.0Z" fill="#fff7fb"/>
<path d="M422.0 200.0L422.5 197.0L424.0 194.0L426.0 191.0L428.0 190.0L430.0 191.5L431.5 193.5L433.2 194.8L435.0 194.0L436.5 194.0L439.0 193.5L441.0 194.5L443.0 196.5L445.0 198.0L447.5 199.0L450.0 200.0L450.5 202.5L448.5 203.8L445.0 204.0L441.0 203.5L438.0 202.5L434.5 201.5L431.5 202.0L428.5 203.5L426.0 203.8L423.5 202.5Z" fill="#ffffff"/>
<path d="M435.0 190.5L437.0 189.5L439.5 189.0L440.5 190.0L440.0 192.0L438.0 193.0L436.0 192.5Z" fill="#ffffff"/>
<path d="M460.5 195.0L462.0 192.5L464.5 190.5L467.5 189.2L470.5 189.0L472.0 190.5L470.5 192.5L468.0 193.5L466.5 195.0L467.0 197.0L469.0 199.0L471.5 200.5L474.0 201.5L475.0 203.5L473.5 203.5L474.0 205.5L475.5 207.5L477.0 210.0L478.5 212.5L478.0 214.5L475.0 214.8L472.0 214.0L469.5 212.5L468.5 210.0L469.0 207.5L468.0 205.5L466.5 203.5L464.5 201.5L462.5 199.0L461.0 197.0Z" fill="#ffffff"/>
</g>
<g id="legend">
<rect x="68.5" y="501.5" width="47" height="11" fill="url(#hatch)" stroke="#b5b5b5" stroke-width="0.8"/>
<path d="M92 498.5V501.5M135.5 498.5V501.5" stroke="#b5b5b5" stroke-width="0.8"/>
<rect x="135.5" y="501.5" width="80.7" height="11" fill="#fff7fb"/>
<rect x="216.2" y="501.5" width="80.8" height="11" fill="#ece7f2"/>
<rect x="297" y="501.5" width="80.7" height="11" fill="#d0d1e6"/>
<rect x="377.7" y="501.5" width="80.7" height="11" fill="#a6bddb"/>
<rect x="458.4" y="501.5" width="80.6" height="11" fill="#74a9cf"/>
<rect x="539" y="501.5" width="81.0" height="11" fill="#3690c0"/>
<rect x="620" y="501.5" width="80.5" height="11" fill="#0570b0"/>
<path d="M700.5 501.5H776.7L781.6 507L776.7 512.5H700.5Z" fill="#034e7b"/>
<path d="M135.5 501.5H700.5M135.5 512.5H700.5M135.5 501.5V512.5" fill="none" stroke="#b5b5b5" stroke-width="0.8"/>
<path d="M216.2 498.5V512.5M297 498.5V512.5M377.7 498.5V512.5M458.4 498.5V512.5M539 498.5V512.5M620 498.5V512.5M700.5 498.5V512.5" stroke="#8a8a8a" stroke-width="0.7"/>
</g>
</svg>
<div class="abs lg" style="left:68px;top:482px">No data</div>
<div class="abs lg" style="left:128px;top:482px">0 t</div>
<div class="abs lg" style="left:216px;top:482px;transform:translateX(-50%)">100,000 t</div>
<div class="abs lg" style="left:297px;top:482px;transform:translateX(-50%)">300,000 t</div>
<div class="abs lg" style="left:377px;top:482px;transform:translateX(-50%)">1 million t</div>
<div class="abs lg" style="left:458px;top:482px;transform:translateX(-50%)">3 million t</div>
<div class="abs lg" style="left:539px;top:482px;transform:translateX(-50%)">10 million t</div>
<div class="abs lg" style="left:620px;top:482px;transform:translateX(-50%)">30 million t</div>
<div class="abs lg" style="left:700px;top:482px;transform:translateX(-50%)">100 million t</div>
<div class="abs ft" id="f1" style="top:533px;letter-spacing:-0.073px"><b>Data source:</b> Food and Agriculture Organization of the United Nations (2025)</div>
<div class="abs ft" id="f2" style="top:533px;left:auto;right:18px;letter-spacing:0.06px">OurWorldinData.org/meat-production | CC BY</div>
<div class="abs ft" id="f3" style="top:553px;letter-spacing:-0.015px"><b>Note:</b> Data on milk production relate to total production of whole fresh milk, excluding the milk sucked by young animals but including</div>
<div class="abs ft" id="f4" style="top:569px">amounts fed to livestock.</div>
</body></html>
